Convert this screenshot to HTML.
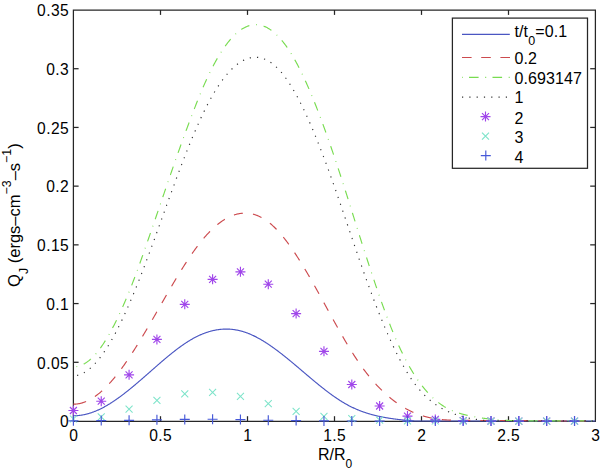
<!DOCTYPE html>
<html><head><meta charset="utf-8"><style>
html,body{margin:0;padding:0;background:#fff;}
svg{display:block;}
text{font-family:"Liberation Sans",sans-serif;}
</style></head><body>
<svg width="600" height="471" viewBox="0 0 600 471">
<rect width="600" height="471" fill="#fff"/>
<g stroke="#262626" stroke-width="1.25" fill="none">
<path d="M72.8,10H596 M73.4,10V421.4 M595.4,10V421.4 M72.8,421.35H596" />
<line x1="160.5" y1="421.3" x2="160.5" y2="416.2"/>
<line x1="160.5" y1="10" x2="160.5" y2="14.9"/>
<line x1="247.5" y1="421.3" x2="247.5" y2="416.2"/>
<line x1="247.5" y1="10" x2="247.5" y2="14.9"/>
<line x1="334.5" y1="421.3" x2="334.5" y2="416.2"/>
<line x1="334.5" y1="10" x2="334.5" y2="14.9"/>
<line x1="421.5" y1="421.3" x2="421.5" y2="416.2"/>
<line x1="421.5" y1="10" x2="421.5" y2="14.9"/>
<line x1="508.5" y1="421.3" x2="508.5" y2="416.2"/>
<line x1="508.5" y1="10" x2="508.5" y2="14.9"/>
<line x1="73.4" y1="362.29" x2="78.6" y2="362.29"/>
<line x1="595.4" y1="362.29" x2="590.2" y2="362.29"/>
<line x1="73.4" y1="303.57" x2="78.6" y2="303.57"/>
<line x1="595.4" y1="303.57" x2="590.2" y2="303.57"/>
<line x1="73.4" y1="244.86" x2="78.6" y2="244.86"/>
<line x1="595.4" y1="244.86" x2="590.2" y2="244.86"/>
<line x1="73.4" y1="186.14" x2="78.6" y2="186.14"/>
<line x1="595.4" y1="186.14" x2="590.2" y2="186.14"/>
<line x1="73.4" y1="127.43" x2="78.6" y2="127.43"/>
<line x1="595.4" y1="127.43" x2="590.2" y2="127.43"/>
<line x1="73.4" y1="68.72" x2="78.6" y2="68.72"/>
<line x1="595.4" y1="68.72" x2="590.2" y2="68.72"/>
</g>
<g fill="none" stroke-width="1.15">
<path d="M73.4,415.71 L73.9,415.71 L74.4,415.71 L74.9,415.71 L75.4,415.70 L75.9,415.68 L76.4,415.66 L76.9,415.63 L77.4,415.60 L77.9,415.56 L78.4,415.51 L78.9,415.47 L79.4,415.41 L79.9,415.35 L80.4,415.29 L80.9,415.22 L81.4,415.15 L81.9,415.07 L82.4,414.99 L82.9,414.90 L83.4,414.80 L83.9,414.71 L84.4,414.60 L84.9,414.50 L85.4,414.38 L85.9,414.27 L86.4,414.15 L86.9,414.02 L87.4,413.89 L87.9,413.75 L88.4,413.61 L88.9,413.47 L89.4,413.32 L89.9,413.16 L90.4,413.00 L90.9,412.84 L91.4,412.67 L91.9,412.50 L92.4,412.33 L92.9,412.15 L93.4,411.96 L93.9,411.77 L94.4,411.58 L94.9,411.38 L95.4,411.18 L95.9,410.97 L96.4,410.76 L96.9,410.55 L97.4,410.33 L97.9,410.11 L98.4,409.88 L98.9,409.65 L99.4,409.42 L99.9,409.18 L100.4,408.94 L100.9,408.69 L101.4,408.44 L101.9,408.19 L102.4,407.93 L102.9,407.67 L103.4,407.41 L103.9,407.14 L104.4,406.87 L104.9,406.59 L105.4,406.31 L105.9,406.03 L106.4,405.74 L106.9,405.45 L107.4,405.16 L107.9,404.86 L108.4,404.56 L108.9,404.26 L109.4,403.95 L109.9,403.65 L110.4,403.33 L110.9,403.02 L111.4,402.70 L111.9,402.38 L112.4,402.05 L112.9,401.72 L113.4,401.39 L113.9,401.06 L114.4,400.72 L114.9,400.38 L115.4,400.04 L115.9,399.69 L116.4,399.35 L116.9,399.00 L117.4,398.64 L117.9,398.29 L118.4,397.93 L118.9,397.57 L119.4,397.21 L119.9,396.84 L120.4,396.47 L120.9,396.10 L121.4,395.73 L121.9,395.35 L122.4,394.98 L122.9,394.60 L123.4,394.22 L123.9,393.83 L124.4,393.45 L124.9,393.06 L125.4,392.67 L125.9,392.28 L126.4,391.88 L126.9,391.49 L127.4,391.09 L127.9,390.69 L128.4,390.29 L128.9,389.89 L129.4,389.49 L129.9,389.08 L130.4,388.67 L130.9,388.26 L131.4,387.85 L131.9,387.44 L132.4,387.03 L132.9,386.61 L133.4,386.20 L133.9,385.78 L134.4,385.36 L134.9,384.94 L135.4,384.52 L135.9,384.10 L136.4,383.67 L136.9,383.25 L137.4,382.82 L137.9,382.39 L138.4,381.97 L138.9,381.54 L139.4,381.11 L139.9,380.68 L140.4,380.25 L140.9,379.81 L141.4,379.38 L141.9,378.95 L142.4,378.51 L142.9,378.08 L143.4,377.64 L143.9,377.21 L144.4,376.77 L144.9,376.33 L145.4,375.90 L145.9,375.46 L146.4,375.02 L146.9,374.58 L147.4,374.14 L147.9,373.71 L148.4,373.27 L148.9,372.83 L149.4,372.39 L149.9,371.95 L150.4,371.51 L150.9,371.07 L151.4,370.63 L151.9,370.19 L152.4,369.75 L152.9,369.31 L153.4,368.87 L153.9,368.44 L154.4,368.00 L154.9,367.56 L155.4,367.12 L155.9,366.68 L156.4,366.25 L156.9,365.81 L157.4,365.38 L157.9,364.94 L158.4,364.51 L158.9,364.07 L159.4,363.64 L159.9,363.21 L160.4,362.77 L160.9,362.34 L161.4,361.91 L161.9,361.49 L162.4,361.06 L162.9,360.63 L163.4,360.20 L163.9,359.78 L164.4,359.36 L164.9,358.93 L165.4,358.51 L165.9,358.09 L166.4,357.67 L166.9,357.26 L167.4,356.84 L167.9,356.43 L168.4,356.02 L168.9,355.60 L169.4,355.20 L169.9,354.79 L170.4,354.38 L170.9,353.98 L171.4,353.57 L171.9,353.17 L172.4,352.78 L172.9,352.38 L173.4,351.98 L173.9,351.59 L174.4,351.20 L174.9,350.81 L175.4,350.43 L175.9,350.04 L176.4,349.66 L176.9,349.28 L177.4,348.90 L177.9,348.53 L178.4,348.16 L178.9,347.79 L179.4,347.42 L179.9,347.05 L180.4,346.69 L180.9,346.33 L181.4,345.98 L181.9,345.62 L182.4,345.27 L182.9,344.92 L183.4,344.58 L183.9,344.23 L184.4,343.89 L184.9,343.56 L185.4,343.22 L185.9,342.89 L186.4,342.57 L186.9,342.24 L187.4,341.92 L187.9,341.60 L188.4,341.29 L188.9,340.98 L189.4,340.67 L189.9,340.37 L190.4,340.07 L190.9,339.77 L191.4,339.48 L191.9,339.19 L192.4,338.90 L192.9,338.62 L193.4,338.34 L193.9,338.07 L194.4,337.80 L194.9,337.53 L195.4,337.27 L195.9,337.01 L196.4,336.76 L196.9,336.51 L197.4,336.26 L197.9,336.02 L198.4,335.78 L198.9,335.55 L199.4,335.32 L199.9,335.09 L200.4,334.87 L200.9,334.65 L201.4,334.44 L201.9,334.23 L202.4,334.02 L202.9,333.82 L203.4,333.62 L203.9,333.43 L204.4,333.24 L204.9,333.05 L205.4,332.87 L205.9,332.69 L206.4,332.52 L206.9,332.35 L207.4,332.19 L207.9,332.03 L208.4,331.87 L208.9,331.72 L209.4,331.57 L209.9,331.43 L210.4,331.29 L210.9,331.15 L211.4,331.02 L211.9,330.90 L212.4,330.77 L212.9,330.65 L213.4,330.54 L213.9,330.43 L214.4,330.32 L214.9,330.22 L215.4,330.13 L215.9,330.03 L216.4,329.94 L216.9,329.86 L217.4,329.78 L217.9,329.70 L218.4,329.63 L218.9,329.57 L219.4,329.50 L219.9,329.44 L220.4,329.39 L220.9,329.34 L221.4,329.29 L221.9,329.25 L222.4,329.22 L222.9,329.18 L223.4,329.16 L223.9,329.13 L224.4,329.11 L224.9,329.10 L225.4,329.09 L225.9,329.08 L226.4,329.08 L226.9,329.08 L227.4,329.09 L227.9,329.10 L228.4,329.12 L228.9,329.14 L229.4,329.16 L229.9,329.19 L230.4,329.22 L230.9,329.26 L231.4,329.30 L231.9,329.35 L232.4,329.40 L232.9,329.46 L233.4,329.52 L233.9,329.58 L234.4,329.65 L234.9,329.73 L235.4,329.81 L235.9,329.89 L236.4,329.98 L236.9,330.07 L237.4,330.17 L237.9,330.27 L238.4,330.37 L238.9,330.48 L239.4,330.60 L239.9,330.72 L240.4,330.84 L240.9,330.97 L241.4,331.11 L241.9,331.24 L242.4,331.39 L242.9,331.53 L243.4,331.69 L243.9,331.84 L244.4,332.00 L244.9,332.17 L245.4,332.34 L245.9,332.51 L246.4,332.69 L246.9,332.88 L247.4,333.06 L247.9,333.25 L248.4,333.45 L248.9,333.65 L249.4,333.85 L249.9,334.06 L250.4,334.28 L250.9,334.49 L251.4,334.71 L251.9,334.94 L252.4,335.16 L252.9,335.40 L253.4,335.63 L253.9,335.87 L254.4,336.12 L254.9,336.36 L255.4,336.61 L255.9,336.87 L256.4,337.13 L256.9,337.39 L257.4,337.65 L257.9,337.92 L258.4,338.19 L258.9,338.47 L259.4,338.75 L259.9,339.03 L260.4,339.31 L260.9,339.60 L261.4,339.90 L261.9,340.19 L262.4,340.49 L262.9,340.79 L263.4,341.09 L263.9,341.40 L264.4,341.71 L264.9,342.03 L265.4,342.34 L265.9,342.66 L266.4,342.98 L266.9,343.31 L267.4,343.64 L267.9,343.97 L268.4,344.30 L268.9,344.63 L269.4,344.97 L269.9,345.31 L270.4,345.66 L270.9,346.00 L271.4,346.35 L271.9,346.70 L272.4,347.05 L272.9,347.41 L273.4,347.77 L273.9,348.13 L274.4,348.49 L274.9,348.85 L275.4,349.22 L275.9,349.59 L276.4,349.96 L276.9,350.33 L277.4,350.71 L277.9,351.08 L278.4,351.46 L278.9,351.84 L279.4,352.22 L279.9,352.61 L280.4,352.99 L280.9,353.38 L281.4,353.77 L281.9,354.16 L282.4,354.55 L282.9,354.95 L283.4,355.34 L283.9,355.74 L284.4,356.14 L284.9,356.54 L285.4,356.94 L285.9,357.34 L286.4,357.74 L286.9,358.15 L287.4,358.56 L287.9,358.96 L288.4,359.37 L288.9,359.78 L289.4,360.19 L289.9,360.60 L290.4,361.02 L290.9,361.43 L291.4,361.85 L291.9,362.26 L292.4,362.68 L292.9,363.09 L293.4,363.51 L293.9,363.93 L294.4,364.35 L294.9,364.77 L295.4,365.19 L295.9,365.61 L296.4,366.03 L296.9,366.46 L297.4,366.88 L297.9,367.30 L298.4,367.73 L298.9,368.15 L299.4,368.57 L299.9,369.00 L300.4,369.42 L300.9,369.85 L301.4,370.27 L301.9,370.70 L302.4,371.12 L302.9,371.55 L303.4,371.97 L303.9,372.40 L304.4,372.82 L304.9,373.25 L305.4,373.67 L305.9,374.10 L306.4,374.52 L306.9,374.94 L307.4,375.37 L307.9,375.79 L308.4,376.21 L308.9,376.64 L309.4,377.06 L309.9,377.48 L310.4,377.90 L310.9,378.32 L311.4,378.74 L311.9,379.16 L312.4,379.58 L312.9,380.00 L313.4,380.41 L313.9,380.83 L314.4,381.25 L314.9,381.66 L315.4,382.07 L315.9,382.49 L316.4,382.90 L316.9,383.31 L317.4,383.72 L317.9,384.13 L318.4,384.53 L318.9,384.94 L319.4,385.34 L319.9,385.75 L320.4,386.15 L320.9,386.55 L321.4,386.95 L321.9,387.35 L322.4,387.74 L322.9,388.14 L323.4,388.53 L323.9,388.92 L324.4,389.31 L324.9,389.70 L325.4,390.09 L325.9,390.47 L326.4,390.86 L326.9,391.24 L327.4,391.62 L327.9,392.00 L328.4,392.37 L328.9,392.75 L329.4,393.12 L329.9,393.49 L330.4,393.86 L330.9,394.22 L331.4,394.58 L331.9,394.95 L332.4,395.30 L332.9,395.66 L333.4,396.02 L333.9,396.37 L334.4,396.72 L334.9,397.07 L335.4,397.41 L335.9,397.75 L336.4,398.09 L336.9,398.43 L337.4,398.76 L337.9,399.10 L338.4,399.43 L338.9,399.75 L339.4,400.08 L339.9,400.40 L340.4,400.71 L340.9,401.03 L341.4,401.34 L341.9,401.65 L342.4,401.96 L342.9,402.26 L343.4,402.56 L343.9,402.86 L344.4,403.15 L344.9,403.44 L345.4,403.73 L345.9,404.02 L346.4,404.30 L346.9,404.57 L347.4,404.85 L347.9,405.12 L348.4,405.39 L348.9,405.65 L349.4,405.91 L349.9,406.17 L350.4,406.42 L350.9,406.67 L351.4,406.92 L351.9,407.17 L352.4,407.41 L352.9,407.64 L353.4,407.88 L353.9,408.11 L354.4,408.34 L354.9,408.57 L355.4,408.79 L355.9,409.01 L356.4,409.22 L356.9,409.44 L357.4,409.65 L357.9,409.86 L358.4,410.06 L358.9,410.26 L359.4,410.46 L359.9,410.66 L360.4,410.85 L360.9,411.04 L361.4,411.23 L361.9,411.42 L362.4,411.60 L362.9,411.78 L363.4,411.96 L363.9,412.13 L364.4,412.30 L364.9,412.47 L365.4,412.64 L365.9,412.81 L366.4,412.97 L366.9,413.13 L367.4,413.29 L367.9,413.44 L368.4,413.59 L368.9,413.74 L369.4,413.89 L369.9,414.04 L370.4,414.18 L370.9,414.32 L371.4,414.46 L371.9,414.60 L372.4,414.73 L372.9,414.87 L373.4,415.00 L373.9,415.13 L374.4,415.25 L374.9,415.38 L375.4,415.50 L375.9,415.62 L376.4,415.74 L376.9,415.86 L377.4,415.97 L377.9,416.08 L378.4,416.20 L378.9,416.31 L379.4,416.41 L379.9,416.52 L380.4,416.62 L380.9,416.73 L381.4,416.83 L381.9,416.93 L382.4,417.02 L382.9,417.12 L383.4,417.22 L383.9,417.31 L384.4,417.40 L384.9,417.49 L385.4,417.58 L385.9,417.67 L386.4,417.75 L386.9,417.84 L387.4,417.92 L387.9,418.00 L388.4,418.08 L388.9,418.16 L389.4,418.24 L389.9,418.32 L390.4,418.39 L390.9,418.47 L391.4,418.54 L391.9,418.61 L392.4,418.68 L392.9,418.75 L393.4,418.82 L393.9,418.89 L394.4,418.96 L394.9,419.02 L395.4,419.09 L395.9,419.15 L396.4,419.22 L396.9,419.28 L397.4,419.34 L397.9,419.40 L398.4,419.46 L398.9,419.52 L399.4,419.58 L399.9,419.64 L400.4,419.69 L400.9,419.75 L401.4,419.80 L401.9,419.86 L402.4,419.91 L402.9,419.96 L403.4,420.02 L403.9,420.07 L404.4,420.12 L404.9,420.17 L405.4,420.21 L405.9,420.26 L406.4,420.31 L406.9,420.35 L407.4,420.40 L407.9,420.44 L408.4,420.49 L408.9,420.53 L409.4,420.57 L409.9,420.62 L410.4,420.66 L410.9,420.70 L411.4,420.74 L411.9,420.77 L412.4,420.81 L412.9,420.85 L413.4,420.89 L413.9,420.92 L414.4,420.96 L414.9,420.99 L415.4,421.00 L415.9,421.00 L416.4,421.00 L416.9,421.00 L417.4,421.00 L417.9,421.00 L418.4,421.00 L418.9,421.00 L419.4,421.00 L419.9,421.00 L420.4,421.00 L420.9,421.00 L421.4,421.00 L421.9,421.00 L422.4,421.00 L422.9,421.00 L423.4,421.00 L423.9,421.00 L424.4,421.00 L424.9,421.00 L425.4,421.00 L425.9,421.00 L426.4,421.00 L426.9,421.00 L427.4,421.00 L427.9,421.00 L428.4,421.00 L428.9,421.00 L429.4,421.00 L429.9,421.00 L430.4,421.00 L430.9,421.00 L431.4,421.00 L431.9,421.00 L432.4,421.00 L432.9,421.00 L433.4,421.00 L433.9,421.00 L434.4,421.00 L434.9,421.00 L435.4,421.00 L435.9,421.00 L436.4,421.00 L436.9,421.00 L437.4,421.00 L437.9,421.00 L438.4,421.00 L438.9,421.00 L439.4,421.00 L439.9,421.00 L440.4,421.00 L440.9,421.00 L441.4,421.00 L441.9,421.00 L442.4,421.00 L442.9,421.00 L443.4,421.00 L443.9,421.00 L444.4,421.00 L444.9,421.00 L445.4,421.00 L445.9,421.00 L446.4,421.00 L446.9,421.00 L447.4,421.00 L447.9,421.00 L448.4,421.00 L448.9,421.00 L449.4,421.00 L449.9,421.00 L450.4,421.00 L450.9,421.00 L451.4,421.00 L451.9,421.00 L452.4,421.00 L452.9,421.00 L453.4,421.00 L453.9,421.00 L454.4,421.00 L454.9,421.00 L455.4,421.00 L455.9,421.00 L456.4,421.00 L456.9,421.00 L457.4,421.00 L457.9,421.00 L458.4,421.00 L458.9,421.00 L459.4,421.00 L459.9,421.00 L460.4,421.00 L460.9,421.00 L461.4,421.00 L461.9,421.00 L462.4,421.00 L462.9,421.00 L463.4,421.00 L463.9,421.00 L464.4,421.00 L464.9,421.00 L465.4,421.00 L465.9,421.00 L466.4,421.00 L466.9,421.00 L467.4,421.00 L467.9,421.00 L468.4,421.00 L468.9,421.00 L469.4,421.00 L469.9,421.00 L470.4,421.00 L470.9,421.00 L471.4,421.00 L471.9,421.00 L472.4,421.00 L472.9,421.00 L473.4,421.00 L473.9,421.00 L474.4,421.00 L474.9,421.00 L475.4,421.00 L475.9,421.00 L476.4,421.00 L476.9,421.00 L477.4,421.00 L477.9,421.00 L478.4,421.00 L478.9,421.00 L479.4,421.00 L479.9,421.00 L480.4,421.00 L480.9,421.00 L481.4,421.00 L481.9,421.00 L482.4,421.00 L482.9,421.00 L483.4,421.00 L483.9,421.00 L484.4,421.00 L484.9,421.00 L485.4,421.00 L485.9,421.00 L486.4,421.00 L486.9,421.00 L487.4,421.00 L487.9,421.00 L488.4,421.00 L488.9,421.00 L489.4,421.00 L489.9,421.00 L490.4,421.00 L490.9,421.00 L491.4,421.00 L491.9,421.00 L492.4,421.00 L492.9,421.00 L493.4,421.00 L493.9,421.00 L494.4,421.00 L494.9,421.00 L495.4,421.00 L495.9,421.00 L496.4,421.00 L496.9,421.00 L497.4,421.00 L497.9,421.00 L498.4,421.00 L498.9,421.00 L499.4,421.00 L499.9,421.00 L500.4,421.00 L500.9,421.00 L501.4,421.00 L501.9,421.00 L502.4,421.00 L502.9,421.00 L503.4,421.00 L503.9,421.00 L504.4,421.00 L504.9,421.00 L505.4,421.00 L505.9,421.00 L506.4,421.00 L506.9,421.00 L507.4,421.00 L507.9,421.00 L508.4,421.00 L508.9,421.00 L509.4,421.00 L509.9,421.00 L510.4,421.00 L510.9,421.00 L511.4,421.00 L511.9,421.00 L512.4,421.00 L512.9,421.00 L513.4,421.00 L513.9,421.00 L514.4,421.00 L514.9,421.00 L515.4,421.00 L515.9,421.00 L516.4,421.00 L516.9,421.00 L517.4,421.00 L517.9,421.00 L518.4,421.00 L518.9,421.00 L519.4,421.00 L519.9,421.00 L520.4,421.00 L520.9,421.00 L521.4,421.00 L521.9,421.00 L522.4,421.00 L522.9,421.00 L523.4,421.00 L523.9,421.00 L524.4,421.00 L524.9,421.00 L525.4,421.00 L525.9,421.00 L526.4,421.00 L526.9,421.00 L527.4,421.00 L527.9,421.00 L528.4,421.00 L528.9,421.00 L529.4,421.00 L529.9,421.00 L530.4,421.00 L530.9,421.00 L531.4,421.00 L531.9,421.00 L532.4,421.00 L532.9,421.00 L533.4,421.00 L533.9,421.00 L534.4,421.00 L534.9,421.00 L535.4,421.00 L535.9,421.00 L536.4,421.00 L536.9,421.00 L537.4,421.00 L537.9,421.00 L538.4,421.00 L538.9,421.00 L539.4,421.00 L539.9,421.00 L540.4,421.00 L540.9,421.00 L541.4,421.00 L541.9,421.00 L542.4,421.00 L542.9,421.00 L543.4,421.00 L543.9,421.00 L544.4,421.00 L544.9,421.00 L545.4,421.00 L545.9,421.00 L546.4,421.00 L546.9,421.00 L547.4,421.00 L547.9,421.00 L548.4,421.00 L548.9,421.00 L549.4,421.00 L549.9,421.00 L550.4,421.00 L550.9,421.00 L551.4,421.00 L551.9,421.00 L552.4,421.00 L552.9,421.00 L553.4,421.00 L553.9,421.00 L554.4,421.00 L554.9,421.00 L555.4,421.00 L555.9,421.00 L556.4,421.00 L556.9,421.00 L557.4,421.00 L557.9,421.00 L558.4,421.00 L558.9,421.00 L559.4,421.00 L559.9,421.00 L560.4,421.00 L560.9,421.00 L561.4,421.00 L561.9,421.00 L562.4,421.00 L562.9,421.00 L563.4,421.00 L563.9,421.00 L564.4,421.00 L564.9,421.00 L565.4,421.00 L565.9,421.00 L566.4,421.00 L566.9,421.00 L567.4,421.00 L567.9,421.00 L568.4,421.00 L568.9,421.00 L569.4,421.00 L569.9,421.00 L570.4,421.00 L570.9,421.00 L571.4,421.00 L571.9,421.00 L572.4,421.00 L572.9,421.00 L573.4,421.00 L573.9,421.00 L574.4,421.00 L574.9,421.00 L575.4,421.00 L575.9,421.00 L576.4,421.00 L576.9,421.00 L577.4,421.00 L577.9,421.00 L578.4,421.00 L578.9,421.00 L579.4,421.00 L579.9,421.00 L580.4,421.00 L580.9,421.00 L581.4,421.00 L581.9,421.00 L582.4,421.00 L582.9,421.00 L583.4,421.00 L583.9,421.00 L584.4,421.00 L584.9,421.00 L585.4,421.00 L585.9,421.00 L586.4,421.00 L586.9,421.00 L587.4,421.00 L587.9,421.00 L588.4,421.00 L588.9,421.00 L589.4,421.00 L589.9,421.00 L590.4,421.00 L590.9,421.00 L591.4,421.00 L591.9,421.00 L592.4,421.00 L592.9,421.00 L593.4,421.00 L593.9,421.00 L594.4,421.00 L594.9,421.00 L595.4,421.00" stroke="#4a56c2"/>
<path d="M73.4,404.19 L73.9,404.19 L74.4,404.18 L74.9,404.16 L75.4,404.13 L75.9,404.09 L76.4,404.05 L76.9,403.99 L77.4,403.93" stroke="#cc4a4e"/>
<path d="M73.4,404.19 L73.9,404.19 L74.4,404.18 L74.9,404.16 L75.4,404.13 L75.9,404.09 L76.4,404.05 L76.9,403.99 L77.4,403.93 L77.9,403.86 L78.4,403.78 L78.9,403.69 L79.4,403.59 L79.9,403.49 L80.4,403.37 L80.9,403.25 L81.4,403.12 L81.9,402.98 L82.4,402.83 L82.9,402.67 L83.4,402.51 L83.9,402.33 L84.4,402.15 L84.9,401.96 L85.4,401.77 L85.9,401.56 L86.4,401.35 L86.9,401.13 L87.4,400.90 L87.9,400.66 L88.4,400.41 L88.9,400.16 L89.4,399.90 L89.9,399.63 L90.4,399.36 L90.9,399.07 L91.4,398.78 L91.9,398.48 L92.4,398.17 L92.9,397.86 L93.4,397.54 L93.9,397.21 L94.4,396.87 L94.9,396.53 L95.4,396.18 L95.9,395.82 L96.4,395.45 L96.9,395.08 L97.4,394.70 L97.9,394.31 L98.4,393.92 L98.9,393.51 L99.4,393.11 L99.9,392.69 L100.4,392.27 L100.9,391.84 L101.4,391.40 L101.9,390.96 L102.4,390.51 L102.9,390.05 L103.4,389.59 L103.9,389.12 L104.4,388.64 L104.9,388.16 L105.4,387.67 L105.9,387.17 L106.4,386.67 L106.9,386.16 L107.4,385.64 L107.9,385.12 L108.4,384.59 L108.9,384.06 L109.4,383.52 L109.9,382.97 L110.4,382.42 L110.9,381.86 L111.4,381.29 L111.9,380.72 L112.4,380.14 L112.9,379.56 L113.4,378.97 L113.9,378.37 L114.4,377.77 L114.9,377.16 L115.4,376.55 L115.9,375.93 L116.4,375.31 L116.9,374.68 L117.4,374.04 L117.9,373.40 L118.4,372.75 L118.9,372.10 L119.4,371.44 L119.9,370.78 L120.4,370.11 L120.9,369.44 L121.4,368.76 L121.9,368.08 L122.4,367.39 L122.9,366.70 L123.4,366.00 L123.9,365.30 L124.4,364.59 L124.9,363.88 L125.4,363.17 L125.9,362.45 L126.4,361.72 L126.9,360.99 L127.4,360.26 L127.9,359.52 L128.4,358.78 L128.9,358.03 L129.4,357.28 L129.9,356.53 L130.4,355.77 L130.9,355.01 L131.4,354.24 L131.9,353.48 L132.4,352.70 L132.9,351.93 L133.4,351.15 L133.9,350.36 L134.4,349.58 L134.9,348.79 L135.4,347.99 L135.9,347.20 L136.4,346.40 L136.9,345.60 L137.4,344.79 L137.9,343.98 L138.4,343.17 L138.9,342.36 L139.4,341.54 L139.9,340.72 L140.4,339.90 L140.9,339.07 L141.4,338.25 L141.9,337.42 L142.4,336.58 L142.9,335.75 L143.4,334.91 L143.9,334.07 L144.4,333.23 L144.9,332.39 L145.4,331.55 L145.9,330.70 L146.4,329.85 L146.9,329.00 L147.4,328.15 L147.9,327.30 L148.4,326.44 L148.9,325.58 L149.4,324.73 L149.9,323.87 L150.4,323.00 L150.9,322.14 L151.4,321.28 L151.9,320.42 L152.4,319.55 L152.9,318.68 L153.4,317.82 L153.9,316.95 L154.4,316.08 L154.9,315.21 L155.4,314.34 L155.9,313.47 L156.4,312.59 L156.9,311.72 L157.4,310.85 L157.9,309.98 L158.4,309.10 L158.9,308.23 L159.4,307.36 L159.9,306.48 L160.4,305.61 L160.9,304.74 L161.4,303.86 L161.9,302.99 L162.4,302.12 L162.9,301.25 L163.4,300.38 L163.9,299.50 L164.4,298.63 L164.9,297.76 L165.4,296.90 L165.9,296.03 L166.4,295.16 L166.9,294.29 L167.4,293.43 L167.9,292.56 L168.4,291.70 L168.9,290.84 L169.4,289.98 L169.9,289.12 L170.4,288.26 L170.9,287.41 L171.4,286.55 L171.9,285.70 L172.4,284.85 L172.9,284.00 L173.4,283.16 L173.9,282.31 L174.4,281.47 L174.9,280.63 L175.4,279.79 L175.9,278.96 L176.4,278.12 L176.9,277.29 L177.4,276.46 L177.9,275.64 L178.4,274.81 L178.9,273.99 L179.4,273.17 L179.9,272.36 L180.4,271.55 L180.9,270.74 L181.4,269.93 L181.9,269.13 L182.4,268.33 L182.9,267.54 L183.4,266.74 L183.9,265.95 L184.4,265.17 L184.9,264.39 L185.4,263.61 L185.9,262.83 L186.4,262.06 L186.9,261.30 L187.4,260.53 L187.9,259.77 L188.4,259.02 L188.9,258.27 L189.4,257.52 L189.9,256.78 L190.4,256.04 L190.9,255.31 L191.4,254.58 L191.9,253.86 L192.4,253.14 L192.9,252.43 L193.4,251.72 L193.9,251.01 L194.4,250.31 L194.9,249.62 L195.4,248.93 L195.9,248.24 L196.4,247.57 L196.9,246.89 L197.4,246.22 L197.9,245.56 L198.4,244.91 L198.9,244.25 L199.4,243.61 L199.9,242.97 L200.4,242.33 L200.9,241.71 L201.4,241.09 L201.9,240.47 L202.4,239.86 L202.9,239.26 L203.4,238.66 L203.9,238.07 L204.4,237.48 L204.9,236.91 L205.4,236.34 L205.9,235.77 L206.4,235.21 L206.9,234.66 L207.4,234.12 L207.9,233.58 L208.4,233.05 L208.9,232.52 L209.4,232.00 L209.9,231.49 L210.4,230.98 L210.9,230.49 L211.4,229.99 L211.9,229.51 L212.4,229.03 L212.9,228.56 L213.4,228.09 L213.9,227.63 L214.4,227.18 L214.9,226.74 L215.4,226.30 L215.9,225.87 L216.4,225.44 L216.9,225.03 L217.4,224.62 L217.9,224.21 L218.4,223.82 L218.9,223.43 L219.4,223.04 L219.9,222.67 L220.4,222.30 L220.9,221.94 L221.4,221.58 L221.9,221.24 L222.4,220.89 L222.9,220.56 L223.4,220.23 L223.9,219.92 L224.4,219.60 L224.9,219.30 L225.4,219.00 L225.9,218.71 L226.4,218.43 L226.9,218.15 L227.4,217.88 L227.9,217.62 L228.4,217.36 L228.9,217.12 L229.4,216.88 L229.9,216.64 L230.4,216.42 L230.9,216.20 L231.4,215.99 L231.9,215.79 L232.4,215.59 L232.9,215.40 L233.4,215.22 L233.9,215.05 L234.4,214.88 L234.9,214.72 L235.4,214.57 L235.9,214.43 L236.4,214.29 L236.9,214.16 L237.4,214.04 L237.9,213.93 L238.4,213.82 L238.9,213.73 L239.4,213.64 L239.9,213.55 L240.4,213.48 L240.9,213.41 L241.4,213.35 L241.9,213.30 L242.4,213.25 L242.9,213.22 L243.4,213.19 L243.9,213.17 L244.4,213.15 L244.9,213.15 L245.4,213.15 L245.9,213.16 L246.4,213.18 L246.9,213.21 L247.4,213.24 L247.9,213.28 L248.4,213.33 L248.9,213.39 L249.4,213.45 L249.9,213.53 L250.4,213.61 L250.9,213.70 L251.4,213.80 L251.9,213.90 L252.4,214.02 L252.9,214.14 L253.4,214.27 L253.9,214.41 L254.4,214.55 L254.9,214.71 L255.4,214.87 L255.9,215.04 L256.4,215.22 L256.9,215.41 L257.4,215.60 L257.9,215.81 L258.4,216.02 L258.9,216.24 L259.4,216.47 L259.9,216.70 L260.4,216.95 L260.9,217.20 L261.4,217.47 L261.9,217.74 L262.4,218.01 L262.9,218.30 L263.4,218.60 L263.9,218.90 L264.4,219.21 L264.9,219.54 L265.4,219.87 L265.9,220.20 L266.4,220.55 L266.9,220.91 L267.4,221.27 L267.9,221.64 L268.4,222.02 L268.9,222.41 L269.4,222.81 L269.9,223.22 L270.4,223.63 L270.9,224.06 L271.4,224.49 L271.9,224.93 L272.4,225.38 L272.9,225.84 L273.4,226.31 L273.9,226.78 L274.4,227.26 L274.9,227.75 L275.4,228.25 L275.9,228.76 L276.4,229.27 L276.9,229.80 L277.4,230.33 L277.9,230.86 L278.4,231.41 L278.9,231.96 L279.4,232.52 L279.9,233.09 L280.4,233.67 L280.9,234.25 L281.4,234.84 L281.9,235.43 L282.4,236.03 L282.9,236.64 L283.4,237.26 L283.9,237.88 L284.4,238.51 L284.9,239.15 L285.4,239.79 L285.9,240.44 L286.4,241.10 L286.9,241.76 L287.4,242.43 L287.9,243.10 L288.4,243.78 L288.9,244.47 L289.4,245.16 L289.9,245.86 L290.4,246.56 L290.9,247.27 L291.4,247.98 L291.9,248.70 L292.4,249.43 L292.9,250.16 L293.4,250.90 L293.9,251.64 L294.4,252.38 L294.9,253.13 L295.4,253.89 L295.9,254.65 L296.4,255.42 L296.9,256.19 L297.4,256.96 L297.9,257.74 L298.4,258.53 L298.9,259.32 L299.4,260.11 L299.9,260.91 L300.4,261.71 L300.9,262.51 L301.4,263.32 L301.9,264.14 L302.4,264.96 L302.9,265.78 L303.4,266.60 L303.9,267.43 L304.4,268.26 L304.9,269.10 L305.4,269.94 L305.9,270.78 L306.4,271.63 L306.9,272.48 L307.4,273.33 L307.9,274.18 L308.4,275.04 L308.9,275.90 L309.4,276.77 L309.9,277.63 L310.4,278.50 L310.9,279.38 L311.4,280.25 L311.9,281.13 L312.4,282.01 L312.9,282.89 L313.4,283.77 L313.9,284.66 L314.4,285.55 L314.9,286.44 L315.4,287.33 L315.9,288.22 L316.4,289.12 L316.9,290.02 L317.4,290.92 L317.9,291.82 L318.4,292.72 L318.9,293.62 L319.4,294.53 L319.9,295.43 L320.4,296.34 L320.9,297.25 L321.4,298.16 L321.9,299.07 L322.4,299.98 L322.9,300.89 L323.4,301.80 L323.9,302.71 L324.4,303.63 L324.9,304.54 L325.4,305.45 L325.9,306.37 L326.4,307.28 L326.9,308.20 L327.4,309.11 L327.9,310.02 L328.4,310.94 L328.9,311.85 L329.4,312.76 L329.9,313.67 L330.4,314.59 L330.9,315.50 L331.4,316.41 L331.9,317.32 L332.4,318.22 L332.9,319.13 L333.4,320.04 L333.9,320.94 L334.4,321.84 L334.9,322.75 L335.4,323.65 L335.9,324.55 L336.4,325.44 L336.9,326.34 L337.4,327.23 L337.9,328.12 L338.4,329.01 L338.9,329.90 L339.4,330.78 L339.9,331.67 L340.4,332.55 L340.9,333.43 L341.4,334.30 L341.9,335.17 L342.4,336.04 L342.9,336.91 L343.4,337.78 L343.9,338.64 L344.4,339.50 L344.9,340.35 L345.4,341.20 L345.9,342.05 L346.4,342.89 L346.9,343.74 L347.4,344.57 L347.9,345.41 L348.4,346.24 L348.9,347.06 L349.4,347.89 L349.9,348.70 L350.4,349.52 L350.9,350.33 L351.4,351.13 L351.9,351.93 L352.4,352.73 L352.9,353.52 L353.4,354.31 L353.9,355.09 L354.4,355.87 L354.9,356.64 L355.4,357.41 L355.9,358.17 L356.4,358.93 L356.9,359.68 L357.4,360.43 L357.9,361.17 L358.4,361.90 L358.9,362.63 L359.4,363.36 L359.9,364.08 L360.4,364.79 L360.9,365.50 L361.4,366.20 L361.9,366.90 L362.4,367.59 L362.9,368.27 L363.4,368.95 L363.9,369.63 L364.4,370.30 L364.9,370.96 L365.4,371.62 L365.9,372.27 L366.4,372.92 L366.9,373.56 L367.4,374.20 L367.9,374.83 L368.4,375.46 L368.9,376.08 L369.4,376.69 L369.9,377.30 L370.4,377.91 L370.9,378.51 L371.4,379.10 L371.9,379.69 L372.4,380.28 L372.9,380.86 L373.4,381.43 L373.9,382.00 L374.4,382.57 L374.9,383.13 L375.4,383.68 L375.9,384.23 L376.4,384.77 L376.9,385.31 L377.4,385.85 L377.9,386.38 L378.4,386.90 L378.9,387.42 L379.4,387.94 L379.9,388.45 L380.4,388.95 L380.9,389.45 L381.4,389.95 L381.9,390.44 L382.4,390.92 L382.9,391.40 L383.4,391.88 L383.9,392.35 L384.4,392.82 L384.9,393.28 L385.4,393.73 L385.9,394.19 L386.4,394.64 L386.9,395.08 L387.4,395.52 L387.9,395.95 L388.4,396.38 L388.9,396.80 L389.4,397.22 L389.9,397.64 L390.4,398.05 L390.9,398.46 L391.4,398.86 L391.9,399.26 L392.4,399.65 L392.9,400.04 L393.4,400.42 L393.9,400.80 L394.4,401.18 L394.9,401.55 L395.4,401.92 L395.9,402.28 L396.4,402.64 L396.9,402.99 L397.4,403.34 L397.9,403.69 L398.4,404.03 L398.9,404.36 L399.4,404.70 L399.9,405.03 L400.4,405.35 L400.9,405.67 L401.4,405.99 L401.9,406.30 L402.4,406.61 L402.9,406.91 L403.4,407.21 L403.9,407.50 L404.4,407.80 L404.9,408.08 L405.4,408.37 L405.9,408.65 L406.4,408.92 L406.9,409.19 L407.4,409.46 L407.9,409.72 L408.4,409.98 L408.9,410.24 L409.4,410.49 L409.9,410.74 L410.4,410.98 L410.9,411.22 L411.4,411.46 L411.9,411.69 L412.4,411.92 L412.9,412.15 L413.4,412.37 L413.9,412.59 L414.4,412.80 L414.9,413.01 L415.4,413.22 L415.9,413.42 L416.4,413.62 L416.9,413.82 L417.4,414.01 L417.9,414.20 L418.4,414.38 L418.9,414.57 L419.4,414.74 L419.9,414.92 L420.4,415.09 L420.9,415.26 L421.4,415.42 L421.9,415.58 L422.4,415.74 L422.9,415.89 L423.4,416.04 L423.9,416.19 L424.4,416.33 L424.9,416.48 L425.4,416.61 L425.9,416.75 L426.4,416.88 L426.9,417.00 L427.4,417.13 L427.9,417.25 L428.4,417.37 L428.9,417.48 L429.4,417.60 L429.9,417.71 L430.4,417.81 L430.9,417.92 L431.4,418.02 L431.9,418.12 L432.4,418.21 L432.9,418.30 L433.4,418.39 L433.9,418.48 L434.4,418.57 L434.9,418.65 L435.4,418.73 L435.9,418.81 L436.4,418.88 L436.9,418.95 L437.4,419.02 L437.9,419.09 L438.4,419.16 L438.9,419.22 L439.4,419.28 L439.9,419.34 L440.4,419.40 L440.9,419.45 L441.4,419.51 L441.9,419.56 L442.4,419.61 L442.9,419.65 L443.4,419.70 L443.9,419.74 L444.4,419.78 L444.9,419.82 L445.4,419.86 L445.9,419.90 L446.4,419.93 L446.9,419.96 L447.4,420.00 L447.9,420.03 L448.4,420.05 L448.9,420.08 L449.4,420.11 L449.9,420.13 L450.4,420.15 L450.9,420.18 L451.4,420.20 L451.9,420.22 L452.4,420.23 L452.9,420.25 L453.4,420.27 L453.9,420.28 L454.4,420.29 L454.9,420.31 L455.4,420.32 L455.9,420.33 L456.4,420.34 L456.9,420.35 L457.4,420.36 L457.9,420.37 L458.4,420.37 L458.9,420.38 L459.4,420.38 L459.9,420.39 L460.4,420.39 L460.9,420.40 L461.4,420.40 L461.9,420.40 L462.4,420.41 L462.9,420.41 L463.4,420.41 L463.9,420.41 L464.4,420.42 L464.9,420.42 L465.4,420.42 L465.9,420.42 L466.4,420.42 L466.9,420.42 L467.4,420.42 L467.9,420.42 L468.4,420.42 L468.9,420.42 L469.4,420.43 L469.9,420.43 L470.4,420.43 L470.9,420.43 L471.4,420.43 L471.9,420.43 L472.4,420.43 L472.9,420.43 L473.4,420.44 L473.9,420.44 L474.4,420.44 L474.9,420.44 L475.4,420.44 L475.9,420.44 L476.4,420.44 L476.9,420.44 L477.4,420.45 L477.9,420.45 L478.4,420.45 L478.9,420.45 L479.4,420.45 L479.9,420.45 L480.4,420.45 L480.9,420.46 L481.4,420.46 L481.9,420.46 L482.4,420.46 L482.9,420.46 L483.4,420.46 L483.9,420.47 L484.4,420.47 L484.9,420.47 L485.4,420.47 L485.9,420.47 L486.4,420.47 L486.9,420.48 L487.4,420.48 L487.9,420.48 L488.4,420.48 L488.9,420.48 L489.4,420.48 L489.9,420.49 L490.4,420.49 L490.9,420.49 L491.4,420.49 L491.9,420.49 L492.4,420.50 L492.9,420.50 L493.4,420.50 L493.9,420.50 L494.4,420.50 L494.9,420.51 L495.4,420.51 L495.9,420.51 L496.4,420.51 L496.9,420.52 L497.4,420.52 L497.9,420.52 L498.4,420.52 L498.9,420.52 L499.4,420.53 L499.9,420.53 L500.4,420.53 L500.9,420.53 L501.4,420.54 L501.9,420.54 L502.4,420.54 L502.9,420.54 L503.4,420.55 L503.9,420.55 L504.4,420.55 L504.9,420.55 L505.4,420.56 L505.9,420.56 L506.4,420.56 L506.9,420.56 L507.4,420.57 L507.9,420.57 L508.4,420.57 L508.9,420.57 L509.4,420.58 L509.9,420.58 L510.4,420.58 L510.9,420.58 L511.4,420.59 L511.9,420.59 L512.4,420.59 L512.9,420.60 L513.4,420.60 L513.9,420.60 L514.4,420.60 L514.9,420.61 L515.4,420.61 L515.9,420.61 L516.4,420.62 L516.9,420.62 L517.4,420.62 L517.9,420.63 L518.4,420.63 L518.9,420.63 L519.4,420.64 L519.9,420.64 L520.4,420.64 L520.9,420.64 L521.4,420.65 L521.9,420.65 L522.4,420.65 L522.9,420.66 L523.4,420.66 L523.9,420.66 L524.4,420.67 L524.9,420.67 L525.4,420.67 L525.9,420.68 L526.4,420.68 L526.9,420.68 L527.4,420.69 L527.9,420.69 L528.4,420.70 L528.9,420.70 L529.4,420.70 L529.9,420.71 L530.4,420.71 L530.9,420.71 L531.4,420.72 L531.9,420.72 L532.4,420.72 L532.9,420.73 L533.4,420.73 L533.9,420.74 L534.4,420.74 L534.9,420.74 L535.4,420.75 L535.9,420.75 L536.4,420.75 L536.9,420.76 L537.4,420.76 L537.9,420.77 L538.4,420.77 L538.9,420.77 L539.4,420.78 L539.9,420.78 L540.4,420.79 L540.9,420.79 L541.4,420.79 L541.9,420.80 L542.4,420.80 L542.9,420.81 L543.4,420.81 L543.9,420.81 L544.4,420.82 L544.9,420.82 L545.4,420.83 L545.9,420.83 L546.4,420.84 L546.9,420.84 L547.4,420.84 L547.9,420.85 L548.4,420.85 L548.9,420.86 L549.4,420.86 L549.9,420.87 L550.4,420.87 L550.9,420.88 L551.4,420.88 L551.9,420.88 L552.4,420.89 L552.9,420.89 L553.4,420.90 L553.9,420.90 L554.4,420.91 L554.9,420.91 L555.4,420.92 L555.9,420.92 L556.4,420.93 L556.9,420.93 L557.4,420.94 L557.9,420.94 L558.4,420.94 L558.9,420.95 L559.4,420.95 L559.9,420.96 L560.4,420.96 L560.9,420.97 L561.4,420.97 L561.9,420.98 L562.4,420.98 L562.9,420.99 L563.4,420.99 L563.9,421.00 L564.4,421.00 L564.9,421.00 L565.4,421.00 L565.9,421.00 L566.4,421.00 L566.9,421.00 L567.4,421.00 L567.9,421.00 L568.4,421.00 L568.9,421.00 L569.4,421.00 L569.9,421.00 L570.4,421.00 L570.9,421.00 L571.4,421.00 L571.9,421.00 L572.4,421.00 L572.9,421.00 L573.4,421.00 L573.9,421.00 L574.4,421.00 L574.9,421.00 L575.4,421.00 L575.9,421.00 L576.4,421.00 L576.9,421.00 L577.4,421.00 L577.9,421.00 L578.4,421.00 L578.9,421.00 L579.4,421.00 L579.9,421.00 L580.4,421.00 L580.9,421.00 L581.4,421.00 L581.9,421.00 L582.4,421.00 L582.9,421.00 L583.4,421.00 L583.9,421.00 L584.4,421.00 L584.9,421.00 L585.4,421.00 L585.9,421.00 L586.4,421.00 L586.9,421.00 L587.4,421.00 L587.9,421.00 L588.4,421.00 L588.9,421.00 L589.4,421.00 L589.9,421.00 L590.4,421.00 L590.9,421.00 L591.4,421.00 L591.9,421.00 L592.4,421.00 L592.9,421.00 L593.4,421.00 L593.9,421.00 L594.4,421.00 L594.9,421.00 L595.4,421.00" stroke="#cc4a4e" stroke-dasharray="9.2 10.1" stroke-dashoffset="15.42"/>
<path d="M73.4,366.85 L73.9,366.84 L74.4,366.82 L74.9,366.78 L75.4,366.74 L75.9,366.68 L76.4,366.60 L76.9,366.52 L77.4,366.42 L77.9,366.31 L78.4,366.18 L78.9,366.05 L79.4,365.90 L79.9,365.73 L80.4,365.56 L80.9,365.37 L81.4,365.17 L81.9,364.95 L82.4,364.72 L82.9,364.48 L83.4,364.23 L83.9,363.97 L84.4,363.69 L84.9,363.40 L85.4,363.09 L85.9,362.78 L86.4,362.45 L86.9,362.10 L87.4,361.75 L87.9,361.38 L88.4,361.00 L88.9,360.61 L89.4,360.20 L89.9,359.78 L90.4,359.35 L90.9,358.90 L91.4,358.45 L91.9,357.98 L92.4,357.49 L92.9,357.00 L93.4,356.49 L93.9,355.97 L94.4,355.43 L94.9,354.89 L95.4,354.33 L95.9,353.76 L96.4,353.17 L96.9,352.58 L97.4,351.97 L97.9,351.34 L98.4,350.71 L98.9,350.06 L99.4,349.40 L99.9,348.73 L100.4,348.05 L100.9,347.36 L101.4,346.65 L101.9,345.93 L102.4,345.20 L102.9,344.46 L103.4,343.71 L103.9,342.94 L104.4,342.16 L104.9,341.38 L105.4,340.58 L105.9,339.77 L106.4,338.95 L106.9,338.12 L107.4,337.28 L107.9,336.43 L108.4,335.56 L108.9,334.69 L109.4,333.81 L109.9,332.91 L110.4,332.01 L110.9,331.10 L111.4,330.17 L111.9,329.24 L112.4,328.29 L112.9,327.34 L113.4,326.38 L113.9,325.41 L114.4,324.42 L114.9,323.43 L115.4,322.43 L115.9,321.42 L116.4,320.40 L116.9,319.38 L117.4,318.34 L117.9,317.29 L118.4,316.24 L118.9,315.18 L119.4,314.11 L119.9,313.03 L120.4,311.94 L120.9,310.84 L121.4,309.74 L121.9,308.63 L122.4,307.50 L122.9,306.38 L123.4,305.24 L123.9,304.10 L124.4,302.94 L124.9,301.78 L125.4,300.62 L125.9,299.44 L126.4,298.26 L126.9,297.06 L127.4,295.86 L127.9,294.66 L128.4,293.44 L128.9,292.22 L129.4,290.98 L129.9,289.74 L130.4,288.49 L130.9,287.24 L131.4,285.97 L131.9,284.70 L132.4,283.41 L132.9,282.12 L133.4,280.82 L133.9,279.51 L134.4,278.20 L134.9,276.87 L135.4,275.54 L135.9,274.20 L136.4,272.85 L136.9,271.49 L137.4,270.12 L137.9,268.75 L138.4,267.37 L138.9,265.98 L139.4,264.59 L139.9,263.19 L140.4,261.79 L140.9,260.38 L141.4,258.97 L141.9,257.56 L142.4,256.14 L142.9,254.72 L143.4,253.30 L143.9,251.88 L144.4,250.45 L144.9,249.02 L145.4,247.59 L145.9,246.16 L146.4,244.73 L146.9,243.29 L147.4,241.86 L147.9,240.42 L148.4,238.98 L148.9,237.54 L149.4,236.09 L149.9,234.65 L150.4,233.20 L150.9,231.76 L151.4,230.31 L151.9,228.86 L152.4,227.41 L152.9,225.96 L153.4,224.50 L153.9,223.05 L154.4,221.59 L154.9,220.14 L155.4,218.68 L155.9,217.22 L156.4,215.77 L156.9,214.31 L157.4,212.85 L157.9,211.39 L158.4,209.92 L158.9,208.46 L159.4,207.00 L159.9,205.54 L160.4,204.07 L160.9,202.61 L161.4,201.15 L161.9,199.68 L162.4,198.22 L162.9,196.75 L163.4,195.29 L163.9,193.83 L164.4,192.36 L164.9,190.90 L165.4,189.44 L165.9,187.97 L166.4,186.51 L166.9,185.05 L167.4,183.59 L167.9,182.14 L168.4,180.68 L168.9,179.22 L169.4,177.77 L169.9,176.31 L170.4,174.86 L170.9,173.41 L171.4,171.96 L171.9,170.52 L172.4,169.07 L172.9,167.63 L173.4,166.19 L173.9,164.75 L174.4,163.32 L174.9,161.88 L175.4,160.45 L175.9,159.02 L176.4,157.60 L176.9,156.18 L177.4,154.76 L177.9,153.34 L178.4,151.93 L178.9,150.52 L179.4,149.11 L179.9,147.71 L180.4,146.31 L180.9,144.91 L181.4,143.52 L181.9,142.13 L182.4,140.75 L182.9,139.37 L183.4,137.99 L183.9,136.62 L184.4,135.25 L184.9,133.88 L185.4,132.52 L185.9,131.17 L186.4,129.81 L186.9,128.46 L187.4,127.12 L187.9,125.77 L188.4,124.43 L188.9,123.10 L189.4,121.77 L189.9,120.44 L190.4,119.12 L190.9,117.80 L191.4,116.48 L191.9,115.17 L192.4,113.86 L192.9,112.55 L193.4,111.25 L193.9,109.95 L194.4,108.66 L194.9,107.38 L195.4,106.09 L195.9,104.82 L196.4,103.55 L196.9,102.29 L197.4,101.03 L197.9,99.78 L198.4,98.53 L198.9,97.30 L199.4,96.07 L199.9,94.85 L200.4,93.64 L200.9,92.43 L201.4,91.23 L201.9,90.05 L202.4,88.87 L202.9,87.70 L203.4,86.54 L203.9,85.39 L204.4,84.25 L204.9,83.12 L205.4,82.00 L205.9,80.89 L206.4,79.79 L206.9,78.71 L207.4,77.63 L207.9,76.56 L208.4,75.50 L208.9,74.46 L209.4,73.42 L209.9,72.39 L210.4,71.38 L210.9,70.37 L211.4,69.38 L211.9,68.39 L212.4,67.42 L212.9,66.46 L213.4,65.50 L213.9,64.56 L214.4,63.63 L214.9,62.71 L215.4,61.80 L215.9,60.90 L216.4,60.01 L216.9,59.13 L217.4,58.26 L217.9,57.40 L218.4,56.56 L218.9,55.72 L219.4,54.89 L219.9,54.08 L220.4,53.28 L220.9,52.48 L221.4,51.70 L221.9,50.93 L222.4,50.17 L222.9,49.42 L223.4,48.68 L223.9,47.95 L224.4,47.23 L224.9,46.53 L225.4,45.83 L225.9,45.14 L226.4,44.47 L226.9,43.81 L227.4,43.16 L227.9,42.52 L228.4,41.89 L228.9,41.27 L229.4,40.66 L229.9,40.06 L230.4,39.48 L230.9,38.90 L231.4,38.34 L231.9,37.79 L232.4,37.25 L232.9,36.72 L233.4,36.20 L233.9,35.69 L234.4,35.19 L234.9,34.71 L235.4,34.23 L235.9,33.77 L236.4,33.32 L236.9,32.88 L237.4,32.45 L237.9,32.03 L238.4,31.63 L238.9,31.23 L239.4,30.85 L239.9,30.48 L240.4,30.12 L240.9,29.77 L241.4,29.43 L241.9,29.10 L242.4,28.79 L242.9,28.48 L243.4,28.19 L243.9,27.91 L244.4,27.64 L244.9,27.39 L245.4,27.14 L245.9,26.91 L246.4,26.68 L246.9,26.47 L247.4,26.27 L247.9,26.09 L248.4,25.91 L248.9,25.75 L249.4,25.59 L249.9,25.45 L250.4,25.32 L250.9,25.21 L251.4,25.10 L251.9,25.01 L252.4,24.92 L252.9,24.85 L253.4,24.80 L253.9,24.75 L254.4,24.71 L254.9,24.69 L255.4,24.68 L255.9,24.68 L256.4,24.69 L256.9,24.71 L257.4,24.74 L257.9,24.79 L258.4,24.85 L258.9,24.92 L259.4,25.00 L259.9,25.09 L260.4,25.19 L260.9,25.31 L261.4,25.44 L261.9,25.58 L262.4,25.73 L262.9,25.89 L263.4,26.06 L263.9,26.25 L264.4,26.44 L264.9,26.65 L265.4,26.87 L265.9,27.10 L266.4,27.34 L266.9,27.60 L267.4,27.86 L267.9,28.14 L268.4,28.43 L268.9,28.73 L269.4,29.04 L269.9,29.36 L270.4,29.70 L270.9,30.04 L271.4,30.40 L271.9,30.77 L272.4,31.15 L272.9,31.54 L273.4,31.94 L273.9,32.36 L274.4,32.78 L274.9,33.22 L275.4,33.67 L275.9,34.13 L276.4,34.60 L276.9,35.08 L277.4,35.58 L277.9,36.08 L278.4,36.60 L278.9,37.13 L279.4,37.67 L279.9,38.22 L280.4,38.78 L280.9,39.35 L281.4,39.94 L281.9,40.53 L282.4,41.14 L282.9,41.76 L283.4,42.39 L283.9,43.03 L284.4,43.68 L284.9,44.35 L285.4,45.02 L285.9,45.71 L286.4,46.40 L286.9,47.11 L287.4,47.83 L287.9,48.56 L288.4,49.31 L288.9,50.06 L289.4,50.82 L289.9,51.60 L290.4,52.39 L290.9,53.18 L291.4,53.99 L291.9,54.81 L292.4,55.65 L292.9,56.49 L293.4,57.34 L293.9,58.21 L294.4,59.08 L294.9,59.97 L295.4,60.86 L295.9,61.77 L296.4,62.69 L296.9,63.62 L297.4,64.55 L297.9,65.50 L298.4,66.46 L298.9,67.43 L299.4,68.41 L299.9,69.40 L300.4,70.40 L300.9,71.40 L301.4,72.42 L301.9,73.45 L302.4,74.49 L302.9,75.53 L303.4,76.59 L303.9,77.65 L304.4,78.73 L304.9,79.81 L305.4,80.90 L305.9,82.00 L306.4,83.11 L306.9,84.23 L307.4,85.36 L307.9,86.50 L308.4,87.64 L308.9,88.79 L309.4,89.96 L309.9,91.13 L310.4,92.30 L310.9,93.49 L311.4,94.69 L311.9,95.89 L312.4,97.10 L312.9,98.32 L313.4,99.55 L313.9,100.78 L314.4,102.02 L314.9,103.27 L315.4,104.53 L315.9,105.79 L316.4,107.06 L316.9,108.34 L317.4,109.63 L317.9,110.92 L318.4,112.22 L318.9,113.53 L319.4,114.84 L319.9,116.16 L320.4,117.49 L320.9,118.83 L321.4,120.17 L321.9,121.51 L322.4,122.87 L322.9,124.23 L323.4,125.59 L323.9,126.97 L324.4,128.35 L324.9,129.73 L325.4,131.12 L325.9,132.52 L326.4,133.92 L326.9,135.33 L327.4,136.74 L327.9,138.16 L328.4,139.58 L328.9,141.01 L329.4,142.45 L329.9,143.89 L330.4,145.33 L330.9,146.78 L331.4,148.24 L331.9,149.70 L332.4,151.17 L332.9,152.64 L333.4,154.11 L333.9,155.59 L334.4,157.07 L334.9,158.56 L335.4,160.06 L335.9,161.55 L336.4,163.05 L336.9,164.56 L337.4,166.07 L337.9,167.58 L338.4,169.10 L338.9,170.62 L339.4,172.15 L339.9,173.68 L340.4,175.21 L340.9,176.74 L341.4,178.28 L341.9,179.83 L342.4,181.37 L342.9,182.92 L343.4,184.47 L343.9,186.03 L344.4,187.59 L344.9,189.15 L345.4,190.71 L345.9,192.28 L346.4,193.85 L346.9,195.42 L347.4,197.00 L347.9,198.58 L348.4,200.16 L348.9,201.74 L349.4,203.33 L349.9,204.92 L350.4,206.51 L350.9,208.11 L351.4,209.70 L351.9,211.30 L352.4,212.90 L352.9,214.50 L353.4,216.10 L353.9,217.70 L354.4,219.30 L354.9,220.90 L355.4,222.50 L355.9,224.10 L356.4,225.70 L356.9,227.29 L357.4,228.89 L357.9,230.48 L358.4,232.07 L358.9,233.66 L359.4,235.24 L359.9,236.82 L360.4,238.40 L360.9,239.98 L361.4,241.56 L361.9,243.13 L362.4,244.70 L362.9,246.26 L363.4,247.83 L363.9,249.39 L364.4,250.95 L364.9,252.50 L365.4,254.05 L365.9,255.60 L366.4,257.15 L366.9,258.69 L367.4,260.23 L367.9,261.76 L368.4,263.30 L368.9,264.82 L369.4,266.35 L369.9,267.87 L370.4,269.39 L370.9,270.90 L371.4,272.41 L371.9,273.92 L372.4,275.42 L372.9,276.92 L373.4,278.42 L373.9,279.91 L374.4,281.39 L374.9,282.88 L375.4,284.35 L375.9,285.83 L376.4,287.30 L376.9,288.76 L377.4,290.22 L377.9,291.67 L378.4,293.12 L378.9,294.56 L379.4,296.00 L379.9,297.43 L380.4,298.85 L380.9,300.27 L381.4,301.68 L381.9,303.09 L382.4,304.49 L382.9,305.88 L383.4,307.26 L383.9,308.64 L384.4,310.01 L384.9,311.38 L385.4,312.73 L385.9,314.08 L386.4,315.42 L386.9,316.76 L387.4,318.08 L387.9,319.40 L388.4,320.70 L388.9,322.00 L389.4,323.29 L389.9,324.57 L390.4,325.85 L390.9,327.11 L391.4,328.36 L391.9,329.61 L392.4,330.84 L392.9,332.06 L393.4,333.28 L393.9,334.48 L394.4,335.68 L394.9,336.86 L395.4,338.03 L395.9,339.19 L396.4,340.34 L396.9,341.48 L397.4,342.61 L397.9,343.73 L398.4,344.84 L398.9,345.93 L399.4,347.02 L399.9,348.10 L400.4,349.16 L400.9,350.21 L401.4,351.26 L401.9,352.29 L402.4,353.31 L402.9,354.33 L403.4,355.33 L403.9,356.32 L404.4,357.30 L404.9,358.27 L405.4,359.23 L405.9,360.18 L406.4,361.12 L406.9,362.05 L407.4,362.98 L407.9,363.89 L408.4,364.79 L408.9,365.68 L409.4,366.56 L409.9,367.43 L410.4,368.29 L410.9,369.15 L411.4,369.99 L411.9,370.82 L412.4,371.65 L412.9,372.46 L413.4,373.26 L413.9,374.06 L414.4,374.85 L414.9,375.62 L415.4,376.39 L415.9,377.15 L416.4,377.90 L416.9,378.64 L417.4,379.37 L417.9,380.09 L418.4,380.81 L418.9,381.51 L419.4,382.21 L419.9,382.89 L420.4,383.57 L420.9,384.24 L421.4,384.90 L421.9,385.55 L422.4,386.20 L422.9,386.83 L423.4,387.46 L423.9,388.08 L424.4,388.69 L424.9,389.29 L425.4,389.88 L425.9,390.47 L426.4,391.04 L426.9,391.61 L427.4,392.17 L427.9,392.72 L428.4,393.27 L428.9,393.80 L429.4,394.33 L429.9,394.85 L430.4,395.36 L430.9,395.87 L431.4,396.36 L431.9,396.85 L432.4,397.33 L432.9,397.81 L433.4,398.27 L433.9,398.73 L434.4,399.18 L434.9,399.63 L435.4,400.06 L435.9,400.49 L436.4,400.91 L436.9,401.32 L437.4,401.73 L437.9,402.13 L438.4,402.52 L438.9,402.91 L439.4,403.28 L439.9,403.65 L440.4,404.02 L440.9,404.37 L441.4,404.72 L441.9,405.06 L442.4,405.40 L442.9,405.73 L443.4,406.05 L443.9,406.37 L444.4,406.67 L444.9,406.98 L445.4,407.27 L445.9,407.56 L446.4,407.84 L446.9,408.12 L447.4,408.39 L447.9,408.65 L448.4,408.91 L448.9,409.16 L449.4,409.40 L449.9,409.64 L450.4,409.88 L450.9,410.10 L451.4,410.33 L451.9,410.54 L452.4,410.76 L452.9,410.96 L453.4,411.17 L453.9,411.36 L454.4,411.56 L454.9,411.74 L455.4,411.93 L455.9,412.11 L456.4,412.28 L456.9,412.46 L457.4,412.62 L457.9,412.79 L458.4,412.95 L458.9,413.10 L459.4,413.26 L459.9,413.40 L460.4,413.55 L460.9,413.69 L461.4,413.83 L461.9,413.97 L462.4,414.11 L462.9,414.24 L463.4,414.37 L463.9,414.49 L464.4,414.62 L464.9,414.74 L465.4,414.86 L465.9,414.98 L466.4,415.10 L466.9,415.21 L467.4,415.33 L467.9,415.44 L468.4,415.55 L468.9,415.66 L469.4,415.76 L469.9,415.87 L470.4,415.98 L470.9,416.08 L471.4,416.18 L471.9,416.28 L472.4,416.38 L472.9,416.48 L473.4,416.57 L473.9,416.67 L474.4,416.76 L474.9,416.85 L475.4,416.95 L475.9,417.04 L476.4,417.12 L476.9,417.21 L477.4,417.30 L477.9,417.38 L478.4,417.46 L478.9,417.55 L479.4,417.63 L479.9,417.71 L480.4,417.78 L480.9,417.86 L481.4,417.94 L481.9,418.01 L482.4,418.08 L482.9,418.15 L483.4,418.23 L483.9,418.29 L484.4,418.36 L484.9,418.43 L485.4,418.50 L485.9,418.56 L486.4,418.62 L486.9,418.69 L487.4,418.75 L487.9,418.81 L488.4,418.87 L488.9,418.93 L489.4,418.98 L489.9,419.04 L490.4,419.09 L490.9,419.15 L491.4,419.20 L491.9,419.25 L492.4,419.30 L492.9,419.35 L493.4,419.40 L493.9,419.45 L494.4,419.50 L494.9,419.54 L495.4,419.59 L495.9,419.63 L496.4,419.67 L496.9,419.71 L497.4,419.75 L497.9,419.79 L498.4,419.83 L498.9,419.87 L499.4,419.91 L499.9,419.95 L500.4,419.98 L500.9,420.02 L501.4,420.05 L501.9,420.08 L502.4,420.11 L502.9,420.14 L503.4,420.17 L503.9,420.20 L504.4,420.23 L504.9,420.26 L505.4,420.29 L505.9,420.31 L506.4,420.34 L506.9,420.36 L507.4,420.39 L507.9,420.41 L508.4,420.43 L508.9,420.46 L509.4,420.48 L509.9,420.50 L510.4,420.52 L510.9,420.54 L511.4,420.55 L511.9,420.57 L512.4,420.59 L512.9,420.60 L513.4,420.62 L513.9,420.64 L514.4,420.65 L514.9,420.66 L515.4,420.68 L515.9,420.69 L516.4,420.70 L516.9,420.71 L517.4,420.72 L517.9,420.73 L518.4,420.74 L518.9,420.75 L519.4,420.76 L519.9,420.77 L520.4,420.78 L520.9,420.78 L521.4,420.79 L521.9,420.79 L522.4,420.80 L522.9,420.81 L523.4,420.81 L523.9,420.81 L524.4,420.82 L524.9,420.82 L525.4,420.82 L525.9,420.83 L526.4,420.83 L526.9,420.83 L527.4,420.83 L527.9,420.83 L528.4,420.83 L528.9,420.83 L529.4,420.83 L529.9,420.83 L530.4,420.83 L530.9,420.83 L531.4,420.83 L531.9,420.83 L532.4,420.83 L532.9,420.83 L533.4,420.83 L533.9,420.83 L534.4,420.83 L534.9,420.83 L535.4,420.83 L535.9,420.83 L536.4,420.83 L536.9,420.83 L537.4,420.83 L537.9,420.83 L538.4,420.83 L538.9,420.83 L539.4,420.83 L539.9,420.83 L540.4,420.83 L540.9,420.83 L541.4,420.83 L541.9,420.83 L542.4,420.83 L542.9,420.83 L543.4,420.83 L543.9,420.83 L544.4,420.83 L544.9,420.83 L545.4,420.83 L545.9,420.83 L546.4,420.83 L546.9,420.83 L547.4,420.83 L547.9,420.83 L548.4,420.83 L548.9,420.83 L549.4,420.83 L549.9,420.83 L550.4,420.83 L550.9,420.83 L551.4,420.83 L551.9,420.83 L552.4,420.83 L552.9,420.83 L553.4,420.83 L553.9,420.83 L554.4,420.83 L554.9,420.83 L555.4,420.83 L555.9,420.83 L556.4,420.83 L556.9,420.83 L557.4,420.83 L557.9,420.83 L558.4,420.83 L558.9,420.83 L559.4,420.83 L559.9,420.83 L560.4,420.83 L560.9,420.83 L561.4,420.83 L561.9,420.83 L562.4,420.83 L562.9,420.83 L563.4,420.83 L563.9,420.83 L564.4,420.83 L564.9,420.83 L565.4,420.83 L565.9,420.83 L566.4,420.83 L566.9,420.83 L567.4,420.83 L567.9,420.83 L568.4,420.83 L568.9,420.83 L569.4,420.83 L569.9,420.83 L570.4,420.83 L570.9,420.83 L571.4,420.83 L571.9,420.83 L572.4,420.83 L572.9,420.83 L573.4,420.83 L573.9,420.83 L574.4,420.83 L574.9,420.83 L575.4,420.83 L575.9,420.83 L576.4,420.83 L576.9,420.83 L577.4,420.83 L577.9,420.83 L578.4,420.83 L578.9,420.83 L579.4,420.83 L579.9,420.83 L580.4,420.83 L580.9,420.83 L581.4,420.83 L581.9,420.83 L582.4,420.83 L582.9,420.83 L583.4,420.83 L583.9,420.83 L584.4,420.83 L584.9,420.83 L585.4,420.83 L585.9,420.83 L586.4,420.83 L586.9,420.83 L587.4,420.83 L587.9,420.85 L588.4,420.88 L588.9,420.90 L589.4,420.92 L589.9,420.95 L590.4,420.97 L590.9,421.00 L591.4,421.00 L591.9,421.00 L592.4,421.00 L592.9,421.00 L593.4,421.00 L593.9,421.00 L594.4,421.00 L594.9,421.00 L595.4,421.00" stroke="#78dc50" stroke-dasharray="8.9 6.9 0.8 6.8" stroke-dashoffset="12.71"/>
<path d="M73.4,375.83 L73.9,375.81 L74.4,375.78 L74.9,375.74 L75.4,375.68 L75.9,375.62 L76.4,375.53 L76.9,375.44 L77.4,375.33 L77.9,375.21 L78.4,375.07 L78.9,374.93 L79.4,374.76 L79.9,374.59 L80.4,374.41 L80.9,374.21 L81.4,374.00 L81.9,373.77 L82.4,373.54 L82.9,373.29 L83.4,373.03 L83.9,372.75 L84.4,372.47 L84.9,372.17 L85.4,371.86 L85.9,371.54 L86.4,371.21 L86.9,370.86 L87.4,370.50 L87.9,370.13 L88.4,369.75 L88.9,369.36 L89.4,368.95 L89.9,368.54 L90.4,368.11 L90.9,367.67 L91.4,367.22 L91.9,366.75 L92.4,366.28 L92.9,365.79 L93.4,365.30 L93.9,364.79 L94.4,364.27 L94.9,363.74 L95.4,363.20 L95.9,362.65 L96.4,362.08 L96.9,361.51 L97.4,360.93 L97.9,360.33 L98.4,359.72 L98.9,359.11 L99.4,358.48 L99.9,357.84 L100.4,357.19 L100.9,356.54 L101.4,355.87 L101.9,355.19 L102.4,354.50 L102.9,353.80 L103.4,353.09 L103.9,352.37 L104.4,351.64 L104.9,350.90 L105.4,350.15 L105.9,349.39 L106.4,348.62 L106.9,347.84 L107.4,347.05 L107.9,346.25 L108.4,345.44 L108.9,344.63 L109.4,343.80 L109.9,342.96 L110.4,342.12 L110.9,341.26 L111.4,340.40 L111.9,339.52 L112.4,338.64 L112.9,337.75 L113.4,336.85 L113.9,335.94 L114.4,335.02 L114.9,334.09 L115.4,333.16 L115.9,332.21 L116.4,331.26 L116.9,330.30 L117.4,329.32 L117.9,328.35 L118.4,327.36 L118.9,326.36 L119.4,325.36 L119.9,324.34 L120.4,323.32 L120.9,322.29 L121.4,321.26 L121.9,320.21 L122.4,319.16 L122.9,318.10 L123.4,317.03 L123.9,315.95 L124.4,314.87 L124.9,313.77 L125.4,312.67 L125.9,311.57 L126.4,310.45 L126.9,309.33 L127.4,308.20 L127.9,307.06 L128.4,305.92 L128.9,304.77 L129.4,303.61 L129.9,302.45 L130.4,301.27 L130.9,300.10 L131.4,298.91 L131.9,297.72 L132.4,296.53 L132.9,295.32 L133.4,294.11 L133.9,292.90 L134.4,291.68 L134.9,290.45 L135.4,289.22 L135.9,287.98 L136.4,286.74 L136.9,285.49 L137.4,284.24 L137.9,282.98 L138.4,281.71 L138.9,280.44 L139.4,279.17 L139.9,277.89 L140.4,276.61 L140.9,275.32 L141.4,274.03 L141.9,272.73 L142.4,271.43 L142.9,270.12 L143.4,268.82 L143.9,267.50 L144.4,266.19 L144.9,264.86 L145.4,263.54 L145.9,262.21 L146.4,260.88 L146.9,259.55 L147.4,258.21 L147.9,256.87 L148.4,255.52 L148.9,254.18 L149.4,252.83 L149.9,251.48 L150.4,250.12 L150.9,248.76 L151.4,247.40 L151.9,246.04 L152.4,244.68 L152.9,243.31 L153.4,241.94 L153.9,240.57 L154.4,239.20 L154.9,237.82 L155.4,236.45 L155.9,235.07 L156.4,233.69 L156.9,232.31 L157.4,230.93 L157.9,229.55 L158.4,228.16 L158.9,226.78 L159.4,225.39 L159.9,224.01 L160.4,222.62 L160.9,221.23 L161.4,219.85 L161.9,218.46 L162.4,217.07 L162.9,215.68 L163.4,214.29 L163.9,212.90 L164.4,211.52 L164.9,210.13 L165.4,208.74 L165.9,207.36 L166.4,205.97 L166.9,204.58 L167.4,203.20 L167.9,201.82 L168.4,200.43 L168.9,199.05 L169.4,197.67 L169.9,196.29 L170.4,194.92 L170.9,193.54 L171.4,192.17 L171.9,190.79 L172.4,189.42 L172.9,188.06 L173.4,186.69 L173.9,185.33 L174.4,183.96 L174.9,182.61 L175.4,181.25 L175.9,179.90 L176.4,178.54 L176.9,177.20 L177.4,175.85 L177.9,174.51 L178.4,173.17 L178.9,171.84 L179.4,170.50 L179.9,169.18 L180.4,167.85 L180.9,166.53 L181.4,165.21 L181.9,163.90 L182.4,162.59 L182.9,161.29 L183.4,159.99 L183.9,158.69 L184.4,157.40 L184.9,156.11 L185.4,154.83 L185.9,153.56 L186.4,152.28 L186.9,151.02 L187.4,149.75 L187.9,148.50 L188.4,147.25 L188.9,146.00 L189.4,144.76 L189.9,143.53 L190.4,142.30 L190.9,141.08 L191.4,139.86 L191.9,138.65 L192.4,137.45 L192.9,136.25 L193.4,135.06 L193.9,133.87 L194.4,132.70 L194.9,131.53 L195.4,130.36 L195.9,129.21 L196.4,128.06 L196.9,126.91 L197.4,125.78 L197.9,124.65 L198.4,123.53 L198.9,122.42 L199.4,121.32 L199.9,120.22 L200.4,119.13 L200.9,118.05 L201.4,116.98 L201.9,115.92 L202.4,114.86 L202.9,113.81 L203.4,112.78 L203.9,111.75 L204.4,110.73 L204.9,109.71 L205.4,108.71 L205.9,107.72 L206.4,106.74 L206.9,105.76 L207.4,104.79 L207.9,103.84 L208.4,102.89 L208.9,101.95 L209.4,101.02 L209.9,100.10 L210.4,99.19 L210.9,98.29 L211.4,97.40 L211.9,96.51 L212.4,95.64 L212.9,94.78 L213.4,93.92 L213.9,93.07 L214.4,92.24 L214.9,91.41 L215.4,90.59 L215.9,89.79 L216.4,88.99 L216.9,88.20 L217.4,87.42 L217.9,86.65 L218.4,85.89 L218.9,85.13 L219.4,84.39 L219.9,83.66 L220.4,82.94 L220.9,82.22 L221.4,81.52 L221.9,80.83 L222.4,80.14 L222.9,79.47 L223.4,78.80 L223.9,78.15 L224.4,77.50 L224.9,76.87 L225.4,76.24 L225.9,75.63 L226.4,75.02 L226.9,74.42 L227.4,73.84 L227.9,73.26 L228.4,72.69 L228.9,72.14 L229.4,71.59 L229.9,71.05 L230.4,70.53 L230.9,70.01 L231.4,69.50 L231.9,69.00 L232.4,68.52 L232.9,68.04 L233.4,67.57 L233.9,67.12 L234.4,66.67 L234.9,66.23 L235.4,65.81 L235.9,65.39 L236.4,64.98 L236.9,64.59 L237.4,64.20 L237.9,63.83 L238.4,63.46 L238.9,63.11 L239.4,62.76 L239.9,62.43 L240.4,62.10 L240.9,61.79 L241.4,61.49 L241.9,61.19 L242.4,60.91 L242.9,60.64 L243.4,60.38 L243.9,60.12 L244.4,59.88 L244.9,59.65 L245.4,59.43 L245.9,59.22 L246.4,59.03 L246.9,58.84 L247.4,58.66 L247.9,58.49 L248.4,58.34 L248.9,58.19 L249.4,58.06 L249.9,57.93 L250.4,57.82 L250.9,57.72 L251.4,57.62 L251.9,57.54 L252.4,57.47 L252.9,57.41 L253.4,57.36 L253.9,57.32 L254.4,57.30 L254.9,57.28 L255.4,57.27 L255.9,57.28 L256.4,57.30 L256.9,57.32 L257.4,57.36 L257.9,57.41 L258.4,57.47 L258.9,57.54 L259.4,57.62 L259.9,57.72 L260.4,57.82 L260.9,57.94 L261.4,58.06 L261.9,58.20 L262.4,58.35 L262.9,58.51 L263.4,58.68 L263.9,58.86 L264.4,59.06 L264.9,59.26 L265.4,59.48 L265.9,59.70 L266.4,59.94 L266.9,60.19 L267.4,60.45 L267.9,60.73 L268.4,61.01 L268.9,61.31 L269.4,61.61 L269.9,61.93 L270.4,62.26 L270.9,62.60 L271.4,62.95 L271.9,63.32 L272.4,63.69 L272.9,64.08 L273.4,64.48 L273.9,64.89 L274.4,65.31 L274.9,65.74 L275.4,66.19 L275.9,66.64 L276.4,67.11 L276.9,67.59 L277.4,68.08 L277.9,68.59 L278.4,69.10 L278.9,69.63 L279.4,70.17 L279.9,70.72 L280.4,71.28 L280.9,71.86 L281.4,72.44 L281.9,73.04 L282.4,73.65 L282.9,74.27 L283.4,74.90 L283.9,75.55 L284.4,76.20 L284.9,76.87 L285.4,77.55 L285.9,78.23 L286.4,78.93 L286.9,79.65 L287.4,80.37 L287.9,81.10 L288.4,81.84 L288.9,82.60 L289.4,83.36 L289.9,84.14 L290.4,84.93 L290.9,85.72 L291.4,86.53 L291.9,87.35 L292.4,88.18 L292.9,89.01 L293.4,89.86 L293.9,90.72 L294.4,91.59 L294.9,92.46 L295.4,93.35 L295.9,94.25 L296.4,95.16 L296.9,96.07 L297.4,97.00 L297.9,97.93 L298.4,98.88 L298.9,99.83 L299.4,100.79 L299.9,101.77 L300.4,102.75 L300.9,103.74 L301.4,104.74 L301.9,105.74 L302.4,106.76 L302.9,107.79 L303.4,108.82 L303.9,109.86 L304.4,110.91 L304.9,111.97 L305.4,113.04 L305.9,114.11 L306.4,115.20 L306.9,116.29 L307.4,117.39 L307.9,118.50 L308.4,119.61 L308.9,120.74 L309.4,121.87 L309.9,123.01 L310.4,124.16 L310.9,125.31 L311.4,126.47 L311.9,127.64 L312.4,128.82 L312.9,130.00 L313.4,131.19 L313.9,132.39 L314.4,133.59 L314.9,134.80 L315.4,136.02 L315.9,137.25 L316.4,138.48 L316.9,139.72 L317.4,140.96 L317.9,142.21 L318.4,143.47 L318.9,144.74 L319.4,146.01 L319.9,147.28 L320.4,148.56 L320.9,149.85 L321.4,151.15 L321.9,152.45 L322.4,153.76 L322.9,155.07 L323.4,156.39 L323.9,157.71 L324.4,159.04 L324.9,160.37 L325.4,161.71 L325.9,163.06 L326.4,164.41 L326.9,165.76 L327.4,167.12 L327.9,168.49 L328.4,169.86 L328.9,171.23 L329.4,172.61 L329.9,174.00 L330.4,175.39 L330.9,176.78 L331.4,178.18 L331.9,179.59 L332.4,180.99 L332.9,182.40 L333.4,183.82 L333.9,185.24 L334.4,186.66 L334.9,188.09 L335.4,189.52 L335.9,190.95 L336.4,192.39 L336.9,193.83 L337.4,195.27 L337.9,196.72 L338.4,198.16 L338.9,199.62 L339.4,201.07 L339.9,202.52 L340.4,203.98 L340.9,205.44 L341.4,206.91 L341.9,208.37 L342.4,209.83 L342.9,211.30 L343.4,212.77 L343.9,214.24 L344.4,215.71 L344.9,217.18 L345.4,218.66 L345.9,220.13 L346.4,221.60 L346.9,223.08 L347.4,224.55 L347.9,226.03 L348.4,227.51 L348.9,228.98 L349.4,230.46 L349.9,231.93 L350.4,233.41 L350.9,234.88 L351.4,236.36 L351.9,237.83 L352.4,239.30 L352.9,240.77 L353.4,242.24 L353.9,243.71 L354.4,245.18 L354.9,246.65 L355.4,248.11 L355.9,249.57 L356.4,251.03 L356.9,252.49 L357.4,253.95 L357.9,255.40 L358.4,256.86 L358.9,258.31 L359.4,259.75 L359.9,261.20 L360.4,262.64 L360.9,264.08 L361.4,265.51 L361.9,266.94 L362.4,268.37 L362.9,269.79 L363.4,271.21 L363.9,272.63 L364.4,274.04 L364.9,275.45 L365.4,276.86 L365.9,278.26 L366.4,279.65 L366.9,281.04 L367.4,282.43 L367.9,283.81 L368.4,285.19 L368.9,286.56 L369.4,287.93 L369.9,289.29 L370.4,290.65 L370.9,292.00 L371.4,293.35 L371.9,294.69 L372.4,296.03 L372.9,297.36 L373.4,298.68 L373.9,300.00 L374.4,301.32 L374.9,302.63 L375.4,303.93 L375.9,305.23 L376.4,306.52 L376.9,307.81 L377.4,309.09 L377.9,310.36 L378.4,311.63 L378.9,312.90 L379.4,314.15 L379.9,315.40 L380.4,316.65 L380.9,317.88 L381.4,319.12 L381.9,320.34 L382.4,321.56 L382.9,322.77 L383.4,323.98 L383.9,325.18 L384.4,326.37 L384.9,327.55 L385.4,328.73 L385.9,329.90 L386.4,331.07 L386.9,332.22 L387.4,333.37 L387.9,334.52 L388.4,335.65 L388.9,336.78 L389.4,337.90 L389.9,339.02 L390.4,340.13 L390.9,341.22 L391.4,342.32 L391.9,343.40 L392.4,344.48 L392.9,345.54 L393.4,346.61 L393.9,347.66 L394.4,348.70 L394.9,349.74 L395.4,350.77 L395.9,351.79 L396.4,352.80 L396.9,353.81 L397.4,354.80 L397.9,355.79 L398.4,356.77 L398.9,357.74 L399.4,358.70 L399.9,359.66 L400.4,360.60 L400.9,361.54 L401.4,362.46 L401.9,363.38 L402.4,364.29 L402.9,365.19 L403.4,366.09 L403.9,366.97 L404.4,367.84 L404.9,368.71 L405.4,369.56 L405.9,370.41 L406.4,371.24 L406.9,372.07 L407.4,372.89 L407.9,373.70 L408.4,374.49 L408.9,375.28 L409.4,376.06 L409.9,376.83 L410.4,377.59 L410.9,378.34 L411.4,379.08 L411.9,379.81 L412.4,380.53 L412.9,381.24 L413.4,381.94 L413.9,382.63 L414.4,383.31 L414.9,383.98 L415.4,384.64 L415.9,385.29 L416.4,385.94 L416.9,386.57 L417.4,387.19 L417.9,387.81 L418.4,388.42 L418.9,389.02 L419.4,389.61 L419.9,390.19 L420.4,390.76 L420.9,391.32 L421.4,391.88 L421.9,392.43 L422.4,392.97 L422.9,393.50 L423.4,394.02 L423.9,394.54 L424.4,395.04 L424.9,395.54 L425.4,396.03 L425.9,396.52 L426.4,396.99 L426.9,397.46 L427.4,397.92 L427.9,398.38 L428.4,398.82 L428.9,399.26 L429.4,399.70 L429.9,400.12 L430.4,400.54 L430.9,400.95 L431.4,401.36 L431.9,401.75 L432.4,402.15 L432.9,402.53 L433.4,402.91 L433.9,403.28 L434.4,403.65 L434.9,404.01 L435.4,404.36 L435.9,404.71 L436.4,405.05 L436.9,405.38 L437.4,405.71 L437.9,406.04 L438.4,406.36 L438.9,406.67 L439.4,406.98 L439.9,407.28 L440.4,407.57 L440.9,407.87 L441.4,408.15 L441.9,408.43 L442.4,408.71 L442.9,408.98 L443.4,409.25 L443.9,409.51 L444.4,409.76 L444.9,410.02 L445.4,410.26 L445.9,410.51 L446.4,410.75 L446.9,410.98 L447.4,411.21 L447.9,411.44 L448.4,411.66 L448.9,411.88 L449.4,412.09 L449.9,412.31 L450.4,412.51 L450.9,412.72 L451.4,412.92 L451.9,413.11 L452.4,413.31 L452.9,413.49 L453.4,413.68 L453.9,413.86 L454.4,414.05 L454.9,414.22 L455.4,414.40 L455.9,414.57 L456.4,414.74 L456.9,414.90 L457.4,415.07 L457.9,415.23 L458.4,415.39 L458.9,415.54 L459.4,415.69 L459.9,415.84 L460.4,415.99 L460.9,416.14 L461.4,416.28 L461.9,416.42 L462.4,416.56 L462.9,416.69 L463.4,416.82 L463.9,416.95 L464.4,417.08 L464.9,417.20 L465.4,417.32 L465.9,417.44 L466.4,417.56 L466.9,417.68 L467.4,417.79 L467.9,417.90 L468.4,418.01 L468.9,418.11 L469.4,418.22 L469.9,418.32 L470.4,418.42 L470.9,418.51 L471.4,418.61 L471.9,418.70 L472.4,418.79 L472.9,418.88 L473.4,418.96 L473.9,419.04 L474.4,419.13 L474.9,419.21 L475.4,419.28 L475.9,419.36 L476.4,419.43 L476.9,419.50 L477.4,419.57 L477.9,419.64 L478.4,419.70 L478.9,419.77 L479.4,419.83 L479.9,419.89 L480.4,419.94 L480.9,420.00 L481.4,420.05 L481.9,420.11 L482.4,420.16 L482.9,420.20 L483.4,420.25 L483.9,420.30 L484.4,420.34 L484.9,420.38 L485.4,420.42 L485.9,420.46 L486.4,420.49 L486.9,420.53 L487.4,420.56 L487.9,420.59 L488.4,420.62 L488.9,420.65 L489.4,420.68 L489.9,420.70 L490.4,420.73 L490.9,420.75 L491.4,420.77 L491.9,420.79 L492.4,420.81 L492.9,420.83 L493.4,420.84 L493.9,420.86 L494.4,420.87 L494.9,420.88 L495.4,420.89 L495.9,420.90 L496.4,420.90 L496.9,420.91 L497.4,420.92 L497.9,420.92 L498.4,420.92 L498.9,420.92 L499.4,420.92 L499.9,420.92 L500.4,420.92 L500.9,420.92 L501.4,420.92 L501.9,420.92 L502.4,420.92 L502.9,420.92 L503.4,420.92 L503.9,420.92 L504.4,420.92 L504.9,420.92 L505.4,420.92 L505.9,420.92 L506.4,420.92 L506.9,420.92 L507.4,420.92 L507.9,420.92 L508.4,420.92 L508.9,420.92 L509.4,420.92 L509.9,420.92 L510.4,420.92 L510.9,420.92 L511.4,420.92 L511.9,420.92 L512.4,420.92 L512.9,420.92 L513.4,420.92 L513.9,420.92 L514.4,420.92 L514.9,420.92 L515.4,420.92 L515.9,420.92 L516.4,420.92 L516.9,420.92 L517.4,420.92 L517.9,420.92 L518.4,420.92 L518.9,420.92 L519.4,420.92 L519.9,420.92 L520.4,420.92 L520.9,420.92 L521.4,420.92 L521.9,420.92 L522.4,420.92 L522.9,420.92 L523.4,420.92 L523.9,420.92 L524.4,420.92 L524.9,420.92 L525.4,420.92 L525.9,420.92 L526.4,420.92 L526.9,420.92 L527.4,420.92 L527.9,420.92 L528.4,420.92 L528.9,420.92 L529.4,420.92 L529.9,420.92 L530.4,420.92 L530.9,420.92 L531.4,420.92 L531.9,420.92 L532.4,420.92 L532.9,420.92 L533.4,420.92 L533.9,420.92 L534.4,420.92 L534.9,420.92 L535.4,420.92 L535.9,420.92 L536.4,420.92 L536.9,420.92 L537.4,420.92 L537.9,420.92 L538.4,420.92 L538.9,420.92 L539.4,420.92 L539.9,420.92 L540.4,420.92 L540.9,420.92 L541.4,420.92 L541.9,420.92 L542.4,420.92 L542.9,420.92 L543.4,420.92 L543.9,420.92 L544.4,420.92 L544.9,420.92 L545.4,420.92 L545.9,420.92 L546.4,420.92 L546.9,420.92 L547.4,420.92 L547.9,420.92 L548.4,420.92 L548.9,420.92 L549.4,420.92 L549.9,420.92 L550.4,420.92 L550.9,420.92 L551.4,420.92 L551.9,420.92 L552.4,420.92 L552.9,420.92 L553.4,420.92 L553.9,420.92 L554.4,420.92 L554.9,420.92 L555.4,420.92 L555.9,420.92 L556.4,420.92 L556.9,420.92 L557.4,420.92 L557.9,420.92 L558.4,420.92 L558.9,420.92 L559.4,420.92 L559.9,420.92 L560.4,420.92 L560.9,420.92 L561.4,420.92 L561.9,420.92 L562.4,420.92 L562.9,420.92 L563.4,420.92 L563.9,420.92 L564.4,420.92 L564.9,420.92 L565.4,420.92 L565.9,420.92 L566.4,420.92 L566.9,420.92 L567.4,420.92 L567.9,420.92 L568.4,420.92 L568.9,420.92 L569.4,420.92 L569.9,420.92 L570.4,420.92 L570.9,420.92 L571.4,420.92 L571.9,420.92 L572.4,420.92 L572.9,420.92 L573.4,420.92 L573.9,420.92 L574.4,420.92 L574.9,420.92 L575.4,420.92 L575.9,420.92 L576.4,420.92 L576.9,420.92 L577.4,420.92 L577.9,420.92 L578.4,420.92 L578.9,420.92 L579.4,420.92 L579.9,420.92 L580.4,420.92 L580.9,420.92 L581.4,420.92 L581.9,420.92 L582.4,420.92 L582.9,420.92 L583.4,420.92 L583.9,420.92 L584.4,420.92 L584.9,420.92 L585.4,420.92 L585.9,420.92 L586.4,420.92 L586.9,420.92 L587.4,420.92 L587.9,420.92 L588.4,420.92 L588.9,420.92 L589.4,420.92 L589.9,420.92 L590.4,420.92 L590.9,420.92 L591.4,420.92 L591.9,420.92 L592.4,421.00 L592.9,421.00 L593.4,421.00 L593.9,421.00 L594.4,421.00 L594.9,421.00 L595.4,421.00" stroke="#333" stroke-dasharray="1.2 6.05" stroke-dashoffset="3.56"/>
</g>
<g fill="none" stroke-width="1.15" stroke="#a046ea"><path d="M68.40,410.50H78.40M73.40,405.50V415.50M69.90,407.00L76.90,414.00M69.90,414.00L76.90,407.00"/><path d="M96.24,401.20H106.24M101.24,396.20V406.20M97.74,397.70L104.74,404.70M97.74,404.70L104.74,397.70"/><path d="M124.08,374.80H134.08M129.08,369.80V379.80M125.58,371.30L132.58,378.30M125.58,378.30L132.58,371.30"/><path d="M151.92,339.40H161.92M156.92,334.40V344.40M153.42,335.90L160.42,342.90M153.42,342.90L160.42,335.90"/><path d="M179.76,304.30H189.76M184.76,299.30V309.30M181.26,300.80L188.26,307.80M181.26,307.80L188.26,300.80"/><path d="M207.60,279.30H217.60M212.60,274.30V284.30M209.10,275.80L216.10,282.80M209.10,282.80L216.10,275.80"/><path d="M235.44,271.80H245.44M240.44,266.80V276.80M236.94,268.30L243.94,275.30M236.94,275.30L243.94,268.30"/><path d="M263.28,284.20H273.28M268.28,279.20V289.20M264.78,280.70L271.78,287.70M264.78,287.70L271.78,280.70"/><path d="M291.12,313.60H301.12M296.12,308.60V318.60M292.62,310.10L299.62,317.10M292.62,317.10L299.62,310.10"/><path d="M318.96,351.30H328.96M323.96,346.30V356.30M320.46,347.80L327.46,354.80M320.46,354.80L327.46,347.80"/><path d="M346.80,384.50H356.80M351.80,379.50V389.50M348.30,381.00L355.30,388.00M348.30,388.00L355.30,381.00"/><path d="M374.64,406.00H384.64M379.64,401.00V411.00M376.14,402.50L383.14,409.50M376.14,409.50L383.14,402.50"/><path d="M402.48,416.10H412.48M407.48,411.10V421.10M403.98,412.60L410.98,419.60M403.98,419.60L410.98,412.60"/><path d="M430.32,419.40H440.32M435.32,414.40V424.40M431.82,415.90L438.82,422.90M431.82,422.90L438.82,415.90"/><path d="M458.16,420.60H468.16M463.16,415.60V425.60M459.66,417.10L466.66,424.10M459.66,424.10L466.66,417.10"/><path d="M486.00,421.00H496.00M491.00,416.00V426.00M487.50,417.50L494.50,424.50M487.50,424.50L494.50,417.50"/><path d="M513.84,421.10H523.84M518.84,416.10V426.10M515.34,417.60L522.34,424.60M515.34,424.60L522.34,417.60"/><path d="M541.68,421.10H551.68M546.68,416.10V426.10M543.18,417.60L550.18,424.60M543.18,424.60L550.18,417.60"/><path d="M569.52,421.10H579.52M574.52,416.10V426.10M571.02,417.60L578.02,424.60M571.02,424.60L578.02,417.60"/></g>
<g fill="none" stroke-width="1.05" stroke="#7ee4ca"><path d="M69.90,415.50L76.90,422.50M69.90,422.50L76.90,415.50"/><path d="M97.74,413.30L104.74,420.30M97.74,420.30L104.74,413.30"/><path d="M125.58,405.70L132.58,412.70M125.58,412.70L132.58,405.70"/><path d="M153.42,396.80L160.42,403.80M153.42,403.80L160.42,396.80"/><path d="M181.26,390.30L188.26,397.30M181.26,397.30L188.26,390.30"/><path d="M209.10,388.80L216.10,395.80M209.10,395.80L216.10,388.80"/><path d="M236.94,392.80L243.94,399.80M236.94,399.80L243.94,392.80"/><path d="M264.78,400.20L271.78,407.20M264.78,407.20L271.78,400.20"/><path d="M292.62,407.80L299.62,414.80M292.62,414.80L299.62,407.80"/><path d="M320.46,412.80L327.46,419.80M320.46,419.80L327.46,412.80"/><path d="M348.30,415.20L355.30,422.20M348.30,422.20L355.30,415.20"/><path d="M376.14,416.70L383.14,423.70M376.14,423.70L383.14,416.70"/><path d="M403.98,417.30L410.98,424.30M403.98,424.30L410.98,417.30"/><path d="M431.82,417.50L438.82,424.50M431.82,424.50L438.82,417.50"/><path d="M459.66,417.60L466.66,424.60M459.66,424.60L466.66,417.60"/><path d="M487.50,417.60L494.50,424.60M487.50,424.60L494.50,417.60"/><path d="M515.34,417.60L522.34,424.60M515.34,424.60L522.34,417.60"/><path d="M543.18,417.60L550.18,424.60M543.18,424.60L550.18,417.60"/><path d="M571.02,417.60L578.02,424.60M571.02,424.60L578.02,417.60"/></g>
<g fill="none" stroke-width="1.15" stroke="#4658d8"><path d="M68.40,420.80H78.40M73.40,415.80V425.80"/><path d="M96.24,420.60H106.24M101.24,415.60V425.60"/><path d="M124.08,420.30H134.08M129.08,415.30V425.30"/><path d="M151.92,419.80H161.92M156.92,414.80V424.80"/><path d="M179.76,419.40H189.76M184.76,414.40V424.40"/><path d="M207.60,419.20H217.60M212.60,414.20V424.20"/><path d="M235.44,419.60H245.44M240.44,414.60V424.60"/><path d="M263.28,420.20H273.28M268.28,415.20V425.20"/><path d="M291.12,420.60H301.12M296.12,415.60V425.60"/><path d="M318.96,420.90H328.96M323.96,415.90V425.90"/><path d="M346.80,421.00H356.80M351.80,416.00V426.00"/><path d="M374.64,421.10H384.64M379.64,416.10V426.10"/><path d="M402.48,421.10H412.48M407.48,416.10V426.10"/><path d="M430.32,421.10H440.32M435.32,416.10V426.10"/><path d="M458.16,421.10H468.16M463.16,416.10V426.10"/><path d="M486.00,421.10H496.00M491.00,416.10V426.10"/><path d="M513.84,421.10H523.84M518.84,416.10V426.10"/><path d="M541.68,421.10H551.68M546.68,416.10V426.10"/><path d="M569.52,421.10H579.52M574.52,416.10V426.10"/></g>
<g font-size="15.6" fill="#000" letter-spacing="0.45">
<text x="69.2" y="427.30" text-anchor="end">0</text>
<text x="69.2" y="368.59" text-anchor="end">0.05</text>
<text x="69.2" y="309.87" text-anchor="end">0.1</text>
<text x="69.2" y="251.16" text-anchor="end">0.15</text>
<text x="69.2" y="192.44" text-anchor="end">0.2</text>
<text x="69.2" y="133.73" text-anchor="end">0.25</text>
<text x="69.2" y="75.02" text-anchor="end">0.3</text>
<text x="69.2" y="16.30" text-anchor="end">0.35</text>
<text x="73.7" y="441.1" text-anchor="middle">0</text>
<text x="160.7" y="441.1" text-anchor="middle">0.5</text>
<text x="247.7" y="441.1" text-anchor="middle">1</text>
<text x="334.7" y="441.1" text-anchor="middle">1.5</text>
<text x="421.7" y="441.1" text-anchor="middle">2</text>
<text x="508.7" y="441.1" text-anchor="middle">2.5</text>
<text x="595.7" y="441.1" text-anchor="middle">3</text>
</g>
<g font-size="16" fill="#000">
<text x="335" y="460" text-anchor="middle">R/R<tspan font-size="12" dy="8">0</tspan></text>
<text transform="translate(19.6,215.1) rotate(-90)" text-anchor="middle" font-size="16.5">Q<tspan font-size="12.4" dy="8.3">J</tspan><tspan dy="-8.3"> (ergs–cm</tspan><tspan font-size="12.4" dy="-9">−3</tspan><tspan dy="9">–s</tspan><tspan font-size="12.4" dy="-9">−1</tspan><tspan dy="9">)</tspan></text>
</g>

<rect x="452.4" y="18.1" width="135.1" height="150.2" fill="#fff" stroke="#262626" stroke-width="1.25"/>
<g stroke-width="1.15" fill="none">
<line x1="462" y1="34.3" x2="509.8" y2="34.3" stroke="#4a56c2"/>
<line x1="462" y1="57.5" x2="510" y2="57.5" stroke="#cc4a4e" stroke-dasharray="9.6 9.6"/>
<line x1="462" y1="77.4" x2="510" y2="77.4" stroke="#78dc50" stroke-dasharray="1 6.3 9.6 6.6" stroke-dashoffset="0.3"/>
<line x1="462" y1="97.1" x2="509" y2="97.1" stroke="#333" stroke-dasharray="1.2 6.1"/>
<g stroke="#a046ea"><path d="M480.50,116.60H490.50M485.50,111.60V121.60M482.00,113.10L489.00,120.10M482.00,120.10L489.00,113.10"/></g>
<g stroke="#7ee4ca"><path d="M482.00,132.60L489.00,139.60M482.00,139.60L489.00,132.60"/></g>
<g stroke="#4658d8"><path d="M480.80,155.60H490.80M485.80,150.60V160.60"/></g>
</g>
<g font-size="16" fill="#000" letter-spacing="0.1">
<text x="514.5" y="36.6">t/t<tspan font-size="12.5" dy="8">0</tspan><tspan dy="-8">=0.1</tspan></text>
<text x="514.5" y="64.1">0.2</text>
<text x="514.5" y="83.6">0.693147</text>
<text x="514.5" y="103.3">1</text>
<text x="514.5" y="123.5">2</text>
<text x="514.5" y="143">3</text>
<text x="514.5" y="162.6">4</text>
</g>

</svg>
</body></html>
